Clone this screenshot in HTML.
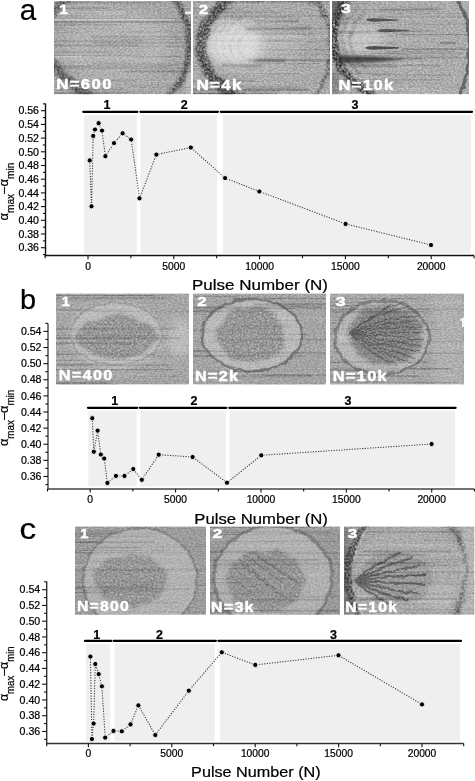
<!DOCTYPE html>
<html><head><meta charset="utf-8"><style>
html,body{margin:0;padding:0;background:#fff;}
svg{display:block;will-change:transform;}
text{font-family:"Liberation Sans", sans-serif;fill:#000;stroke:#000;stroke-width:0.22px;}
text.w{fill:#fff;stroke:#fff;stroke-width:0.45px;}
</style></head><body>
<svg width="475" height="781" viewBox="0 0 475 781">
<rect width="475" height="781" fill="#fff"/>
<defs>
<filter id="b05" filterUnits="userSpaceOnUse" x="0" y="0" width="475" height="781"><feGaussianBlur stdDeviation="0.5"/></filter>
<filter id="b07" filterUnits="userSpaceOnUse" x="0" y="0" width="475" height="781"><feGaussianBlur stdDeviation="0.7"/></filter>
<filter id="b1" filterUnits="userSpaceOnUse" x="0" y="0" width="475" height="781"><feGaussianBlur stdDeviation="1.0"/></filter>
<filter id="b15" filterUnits="userSpaceOnUse" x="0" y="0" width="475" height="781"><feGaussianBlur stdDeviation="1.5"/></filter>
<filter id="b2" filterUnits="userSpaceOnUse" x="0" y="0" width="475" height="781"><feGaussianBlur stdDeviation="2"/></filter>
<filter id="b3" filterUnits="userSpaceOnUse" x="0" y="0" width="475" height="781"><feGaussianBlur stdDeviation="3"/></filter>
<filter id="b4" filterUnits="userSpaceOnUse" x="0" y="0" width="475" height="781"><feGaussianBlur stdDeviation="4"/></filter>
<filter id="b5" filterUnits="userSpaceOnUse" x="0" y="0" width="475" height="781"><feGaussianBlur stdDeviation="5"/></filter>
<filter id="b6" filterUnits="userSpaceOnUse" x="0" y="0" width="475" height="781"><feGaussianBlur stdDeviation="6"/></filter>
<filter id="b8" filterUnits="userSpaceOnUse" x="0" y="0" width="475" height="781"><feGaussianBlur stdDeviation="8"/></filter>
<clipPath id="clip_a1"><rect x="54" y="1" width="137" height="93.2"/></clipPath>
<filter id="gr_a1" x="54" y="1" width="137" height="93.2" filterUnits="userSpaceOnUse" color-interpolation-filters="sRGB">
<feTurbulence type="fractalNoise" baseFrequency="0.45 0.7" numOctaves="2" seed="4"/>
<feColorMatrix type="matrix" values="1 0 0 0 0  1 0 0 0 0  1 0 0 0 0  0 0 0 0 1"/>
<feGaussianBlur stdDeviation="0.6"/>
<feComponentTransfer><feFuncR type="linear" slope="3.5" intercept="-1.25"/><feFuncG type="linear" slope="3.5" intercept="-1.25"/><feFuncB type="linear" slope="3.5" intercept="-1.25"/></feComponentTransfer>
</filter>
<clipPath id="clip_a2"><rect x="193" y="1" width="137" height="93.2"/></clipPath>
<filter id="gr_a2" x="193" y="1" width="137" height="93.2" filterUnits="userSpaceOnUse" color-interpolation-filters="sRGB">
<feTurbulence type="fractalNoise" baseFrequency="0.45 0.7" numOctaves="2" seed="6"/>
<feColorMatrix type="matrix" values="1 0 0 0 0  1 0 0 0 0  1 0 0 0 0  0 0 0 0 1"/>
<feGaussianBlur stdDeviation="0.6"/>
<feComponentTransfer><feFuncR type="linear" slope="3.5" intercept="-1.25"/><feFuncG type="linear" slope="3.5" intercept="-1.25"/><feFuncB type="linear" slope="3.5" intercept="-1.25"/></feComponentTransfer>
</filter>
<clipPath id="clip_a3"><rect x="332" y="1" width="137" height="93.2"/></clipPath>
<filter id="gr_a3" x="332" y="1" width="137" height="93.2" filterUnits="userSpaceOnUse" color-interpolation-filters="sRGB">
<feTurbulence type="fractalNoise" baseFrequency="0.45 0.7" numOctaves="2" seed="8"/>
<feColorMatrix type="matrix" values="1 0 0 0 0  1 0 0 0 0  1 0 0 0 0  0 0 0 0 1"/>
<feGaussianBlur stdDeviation="0.6"/>
<feComponentTransfer><feFuncR type="linear" slope="3.5" intercept="-1.25"/><feFuncG type="linear" slope="3.5" intercept="-1.25"/><feFuncB type="linear" slope="3.5" intercept="-1.25"/></feComponentTransfer>
</filter>
<clipPath id="clip_b1"><rect x="56" y="293.5" width="133" height="91"/></clipPath>
<filter id="gr_b1" x="56" y="293.5" width="133" height="91" filterUnits="userSpaceOnUse" color-interpolation-filters="sRGB">
<feTurbulence type="fractalNoise" baseFrequency="0.45 0.7" numOctaves="2" seed="12"/>
<feColorMatrix type="matrix" values="1 0 0 0 0  1 0 0 0 0  1 0 0 0 0  0 0 0 0 1"/>
<feGaussianBlur stdDeviation="0.6"/>
<feComponentTransfer><feFuncR type="linear" slope="3.5" intercept="-1.25"/><feFuncG type="linear" slope="3.5" intercept="-1.25"/><feFuncB type="linear" slope="3.5" intercept="-1.25"/></feComponentTransfer>
</filter>
<clipPath id="clip_b2"><rect x="193" y="293.5" width="133" height="91"/></clipPath>
<filter id="gr_b2" x="193" y="293.5" width="133" height="91" filterUnits="userSpaceOnUse" color-interpolation-filters="sRGB">
<feTurbulence type="fractalNoise" baseFrequency="0.45 0.7" numOctaves="2" seed="14"/>
<feColorMatrix type="matrix" values="1 0 0 0 0  1 0 0 0 0  1 0 0 0 0  0 0 0 0 1"/>
<feGaussianBlur stdDeviation="0.6"/>
<feComponentTransfer><feFuncR type="linear" slope="3.5" intercept="-1.25"/><feFuncG type="linear" slope="3.5" intercept="-1.25"/><feFuncB type="linear" slope="3.5" intercept="-1.25"/></feComponentTransfer>
</filter>
<clipPath id="clip_b3"><rect x="330" y="293.5" width="134" height="91"/></clipPath>
<filter id="gr_b3" x="330" y="293.5" width="134" height="91" filterUnits="userSpaceOnUse" color-interpolation-filters="sRGB">
<feTurbulence type="fractalNoise" baseFrequency="0.45 0.7" numOctaves="2" seed="18"/>
<feColorMatrix type="matrix" values="1 0 0 0 0  1 0 0 0 0  1 0 0 0 0  0 0 0 0 1"/>
<feGaussianBlur stdDeviation="0.6"/>
<feComponentTransfer><feFuncR type="linear" slope="3.5" intercept="-1.25"/><feFuncG type="linear" slope="3.5" intercept="-1.25"/><feFuncB type="linear" slope="3.5" intercept="-1.25"/></feComponentTransfer>
</filter>
<clipPath id="clip_c1"><rect x="75" y="526.5" width="131" height="88.2"/></clipPath>
<filter id="gr_c1" x="75" y="526.5" width="131" height="88.2" filterUnits="userSpaceOnUse" color-interpolation-filters="sRGB">
<feTurbulence type="fractalNoise" baseFrequency="0.45 0.7" numOctaves="2" seed="20"/>
<feColorMatrix type="matrix" values="1 0 0 0 0  1 0 0 0 0  1 0 0 0 0  0 0 0 0 1"/>
<feGaussianBlur stdDeviation="0.6"/>
<feComponentTransfer><feFuncR type="linear" slope="3.5" intercept="-1.25"/><feFuncG type="linear" slope="3.5" intercept="-1.25"/><feFuncB type="linear" slope="3.5" intercept="-1.25"/></feComponentTransfer>
</filter>
<clipPath id="clip_c2"><rect x="210" y="526.5" width="130" height="88.2"/></clipPath>
<filter id="gr_c2" x="210" y="526.5" width="130" height="88.2" filterUnits="userSpaceOnUse" color-interpolation-filters="sRGB">
<feTurbulence type="fractalNoise" baseFrequency="0.45 0.7" numOctaves="2" seed="24"/>
<feColorMatrix type="matrix" values="1 0 0 0 0  1 0 0 0 0  1 0 0 0 0  0 0 0 0 1"/>
<feGaussianBlur stdDeviation="0.6"/>
<feComponentTransfer><feFuncR type="linear" slope="3.5" intercept="-1.25"/><feFuncG type="linear" slope="3.5" intercept="-1.25"/><feFuncB type="linear" slope="3.5" intercept="-1.25"/></feComponentTransfer>
</filter>
<clipPath id="clip_c3"><rect x="344" y="526.5" width="130.5" height="88.2"/></clipPath>
<filter id="gr_c3" x="344" y="526.5" width="130.5" height="88.2" filterUnits="userSpaceOnUse" color-interpolation-filters="sRGB">
<feTurbulence type="fractalNoise" baseFrequency="0.45 0.7" numOctaves="2" seed="30"/>
<feColorMatrix type="matrix" values="1 0 0 0 0  1 0 0 0 0  1 0 0 0 0  0 0 0 0 1"/>
<feGaussianBlur stdDeviation="0.6"/>
<feComponentTransfer><feFuncR type="linear" slope="3.5" intercept="-1.25"/><feFuncG type="linear" slope="3.5" intercept="-1.25"/><feFuncB type="linear" slope="3.5" intercept="-1.25"/></feComponentTransfer>
</filter>
<filter id="blob1" filterUnits="userSpaceOnUse" x="0" y="0" width="475" height="781" color-interpolation-filters="sRGB">
<feTurbulence type="fractalNoise" baseFrequency="0.5 0.5" numOctaves="2" seed="7" result="t"/>
<feColorMatrix in="t" type="matrix" values="0 0 0 0 0  0 0 0 0 0  0 0 0 0 0  -1.6 0 0 0 1.3" result="ta"/>
<feTurbulence type="fractalNoise" baseFrequency="0.07" numOctaves="2" seed="3" result="n2"/>
<feDisplacementMap in="SourceGraphic" in2="n2" scale="11" xChannelSelector="R" yChannelSelector="G" result="shape"/>
<feGaussianBlur in="shape" stdDeviation="1.6" result="shapeb"/>
<feComposite in="ta" in2="shapeb" operator="in"/>
</filter>
<filter id="rough1" filterUnits="userSpaceOnUse" x="0" y="0" width="475" height="781">
<feTurbulence type="fractalNoise" baseFrequency="0.12" numOctaves="2" seed="5" result="n2"/>
<feDisplacementMap in="SourceGraphic" in2="n2" scale="5" xChannelSelector="R" yChannelSelector="G" result="shape"/>
<feGaussianBlur in="shape" stdDeviation="0.7"/>
</filter>
<filter id="blob2" filterUnits="userSpaceOnUse" x="0" y="0" width="475" height="781" color-interpolation-filters="sRGB">
<feTurbulence type="fractalNoise" baseFrequency="0.5 0.5" numOctaves="2" seed="14" result="t"/>
<feColorMatrix in="t" type="matrix" values="0 0 0 0 0  0 0 0 0 0  0 0 0 0 0  -1.6 0 0 0 1.3" result="ta"/>
<feTurbulence type="fractalNoise" baseFrequency="0.07" numOctaves="2" seed="6" result="n2"/>
<feDisplacementMap in="SourceGraphic" in2="n2" scale="11" xChannelSelector="R" yChannelSelector="G" result="shape"/>
<feGaussianBlur in="shape" stdDeviation="1.6" result="shapeb"/>
<feComposite in="ta" in2="shapeb" operator="in"/>
</filter>
<filter id="rough2" filterUnits="userSpaceOnUse" x="0" y="0" width="475" height="781">
<feTurbulence type="fractalNoise" baseFrequency="0.12" numOctaves="2" seed="10" result="n2"/>
<feDisplacementMap in="SourceGraphic" in2="n2" scale="5" xChannelSelector="R" yChannelSelector="G" result="shape"/>
<feGaussianBlur in="shape" stdDeviation="0.7"/>
</filter>
<filter id="blob3" filterUnits="userSpaceOnUse" x="0" y="0" width="475" height="781" color-interpolation-filters="sRGB">
<feTurbulence type="fractalNoise" baseFrequency="0.5 0.5" numOctaves="2" seed="21" result="t"/>
<feColorMatrix in="t" type="matrix" values="0 0 0 0 0  0 0 0 0 0  0 0 0 0 0  -1.6 0 0 0 1.3" result="ta"/>
<feTurbulence type="fractalNoise" baseFrequency="0.07" numOctaves="2" seed="9" result="n2"/>
<feDisplacementMap in="SourceGraphic" in2="n2" scale="11" xChannelSelector="R" yChannelSelector="G" result="shape"/>
<feGaussianBlur in="shape" stdDeviation="1.6" result="shapeb"/>
<feComposite in="ta" in2="shapeb" operator="in"/>
</filter>
<filter id="rough3" filterUnits="userSpaceOnUse" x="0" y="0" width="475" height="781">
<feTurbulence type="fractalNoise" baseFrequency="0.12" numOctaves="2" seed="15" result="n2"/>
<feDisplacementMap in="SourceGraphic" in2="n2" scale="5" xChannelSelector="R" yChannelSelector="G" result="shape"/>
<feGaussianBlur in="shape" stdDeviation="0.7"/>
</filter>
<filter id="blob4" filterUnits="userSpaceOnUse" x="0" y="0" width="475" height="781" color-interpolation-filters="sRGB">
<feTurbulence type="fractalNoise" baseFrequency="0.5 0.5" numOctaves="2" seed="28" result="t"/>
<feColorMatrix in="t" type="matrix" values="0 0 0 0 0  0 0 0 0 0  0 0 0 0 0  -1.6 0 0 0 1.3" result="ta"/>
<feTurbulence type="fractalNoise" baseFrequency="0.07" numOctaves="2" seed="12" result="n2"/>
<feDisplacementMap in="SourceGraphic" in2="n2" scale="11" xChannelSelector="R" yChannelSelector="G" result="shape"/>
<feGaussianBlur in="shape" stdDeviation="1.6" result="shapeb"/>
<feComposite in="ta" in2="shapeb" operator="in"/>
</filter>
<filter id="rough4" filterUnits="userSpaceOnUse" x="0" y="0" width="475" height="781">
<feTurbulence type="fractalNoise" baseFrequency="0.12" numOctaves="2" seed="20" result="n2"/>
<feDisplacementMap in="SourceGraphic" in2="n2" scale="5" xChannelSelector="R" yChannelSelector="G" result="shape"/>
<feGaussianBlur in="shape" stdDeviation="0.7"/>
</filter>
<filter id="blob5" filterUnits="userSpaceOnUse" x="0" y="0" width="475" height="781" color-interpolation-filters="sRGB">
<feTurbulence type="fractalNoise" baseFrequency="0.5 0.5" numOctaves="2" seed="35" result="t"/>
<feColorMatrix in="t" type="matrix" values="0 0 0 0 0  0 0 0 0 0  0 0 0 0 0  -1.6 0 0 0 1.3" result="ta"/>
<feTurbulence type="fractalNoise" baseFrequency="0.07" numOctaves="2" seed="15" result="n2"/>
<feDisplacementMap in="SourceGraphic" in2="n2" scale="11" xChannelSelector="R" yChannelSelector="G" result="shape"/>
<feGaussianBlur in="shape" stdDeviation="1.6" result="shapeb"/>
<feComposite in="ta" in2="shapeb" operator="in"/>
</filter>
<filter id="rough5" filterUnits="userSpaceOnUse" x="0" y="0" width="475" height="781">
<feTurbulence type="fractalNoise" baseFrequency="0.12" numOctaves="2" seed="25" result="n2"/>
<feDisplacementMap in="SourceGraphic" in2="n2" scale="5" xChannelSelector="R" yChannelSelector="G" result="shape"/>
<feGaussianBlur in="shape" stdDeviation="0.7"/>
</filter>
<filter id="band1" filterUnits="userSpaceOnUse" x="0" y="0" width="475" height="781" color-interpolation-filters="sRGB">
<feTurbulence type="fractalNoise" baseFrequency="0.45 0.45" numOctaves="2" seed="11" result="t"/>
<feColorMatrix in="t" type="matrix" values="0 0 0 0 0  0 0 0 0 0  0 0 0 0 0  -2.2 0 0 0 1.7" result="ta"/>
<feTurbulence type="fractalNoise" baseFrequency="0.1" numOctaves="2" seed="13" result="n2"/>
<feDisplacementMap in="SourceGraphic" in2="n2" scale="7" xChannelSelector="R" yChannelSelector="G" result="shape"/>
<feGaussianBlur in="shape" stdDeviation="0.9" result="shapeb"/>
<feComposite in="ta" in2="shapeb" operator="in"/>
</filter>
<filter id="band2" filterUnits="userSpaceOnUse" x="0" y="0" width="475" height="781" color-interpolation-filters="sRGB">
<feTurbulence type="fractalNoise" baseFrequency="0.45 0.45" numOctaves="2" seed="22" result="t"/>
<feColorMatrix in="t" type="matrix" values="0 0 0 0 0  0 0 0 0 0  0 0 0 0 0  -2.2 0 0 0 1.7" result="ta"/>
<feTurbulence type="fractalNoise" baseFrequency="0.1" numOctaves="2" seed="26" result="n2"/>
<feDisplacementMap in="SourceGraphic" in2="n2" scale="7" xChannelSelector="R" yChannelSelector="G" result="shape"/>
<feGaussianBlur in="shape" stdDeviation="0.9" result="shapeb"/>
<feComposite in="ta" in2="shapeb" operator="in"/>
</filter>
<filter id="band3" filterUnits="userSpaceOnUse" x="0" y="0" width="475" height="781" color-interpolation-filters="sRGB">
<feTurbulence type="fractalNoise" baseFrequency="0.45 0.45" numOctaves="2" seed="33" result="t"/>
<feColorMatrix in="t" type="matrix" values="0 0 0 0 0  0 0 0 0 0  0 0 0 0 0  -2.2 0 0 0 1.7" result="ta"/>
<feTurbulence type="fractalNoise" baseFrequency="0.1" numOctaves="2" seed="39" result="n2"/>
<feDisplacementMap in="SourceGraphic" in2="n2" scale="7" xChannelSelector="R" yChannelSelector="G" result="shape"/>
<feGaussianBlur in="shape" stdDeviation="0.9" result="shapeb"/>
<feComposite in="ta" in2="shapeb" operator="in"/>
</filter>
<filter id="band4" filterUnits="userSpaceOnUse" x="0" y="0" width="475" height="781" color-interpolation-filters="sRGB">
<feTurbulence type="fractalNoise" baseFrequency="0.45 0.45" numOctaves="2" seed="44" result="t"/>
<feColorMatrix in="t" type="matrix" values="0 0 0 0 0  0 0 0 0 0  0 0 0 0 0  -2.2 0 0 0 1.7" result="ta"/>
<feTurbulence type="fractalNoise" baseFrequency="0.1" numOctaves="2" seed="52" result="n2"/>
<feDisplacementMap in="SourceGraphic" in2="n2" scale="7" xChannelSelector="R" yChannelSelector="G" result="shape"/>
<feGaussianBlur in="shape" stdDeviation="0.9" result="shapeb"/>
<feComposite in="ta" in2="shapeb" operator="in"/>
</filter>
<filter id="band5" filterUnits="userSpaceOnUse" x="0" y="0" width="475" height="781" color-interpolation-filters="sRGB">
<feTurbulence type="fractalNoise" baseFrequency="0.45 0.45" numOctaves="2" seed="55" result="t"/>
<feColorMatrix in="t" type="matrix" values="0 0 0 0 0  0 0 0 0 0  0 0 0 0 0  -2.2 0 0 0 1.7" result="ta"/>
<feTurbulence type="fractalNoise" baseFrequency="0.1" numOctaves="2" seed="65" result="n2"/>
<feDisplacementMap in="SourceGraphic" in2="n2" scale="7" xChannelSelector="R" yChannelSelector="G" result="shape"/>
<feGaussianBlur in="shape" stdDeviation="0.9" result="shapeb"/>
<feComposite in="ta" in2="shapeb" operator="in"/>
</filter>
<pattern id="hatch" patternUnits="userSpaceOnUse" width="3.2" height="3.2" patternTransform="rotate(-40)">
<rect width="3.2" height="1.1" fill="#000" opacity="0.5"/></pattern>
<pattern id="hatch2" patternUnits="userSpaceOnUse" width="3.6" height="3.6" patternTransform="rotate(45)">
<rect width="3.6" height="1.0" fill="#000" opacity="0.5"/></pattern>
<radialGradient id="rg"><stop offset="0" stop-color="#fff"/><stop offset="0.6" stop-color="#fff" stop-opacity="0.6"/><stop offset="1" stop-color="#fff" stop-opacity="0"/></radialGradient>
<mask id="m_a1" maskUnits="userSpaceOnUse" x="0" y="0" width="475" height="781"><ellipse cx="112" cy="46" rx="46" ry="34" fill="url(#rg)"/></mask>
</defs>
<rect x="84" y="114.9" width="52.80000000000001" height="138.7" fill="#efefef"/>
<rect x="140.5" y="114.9" width="76.5" height="138.7" fill="#efefef"/>
<rect x="223" y="114.9" width="248" height="138.7" fill="#efefef"/>
<line x1="83.3" y1="111.8" x2="137.3" y2="111.8" stroke="#000" stroke-width="2.3" stroke-linecap="round"/>
<line x1="140.4" y1="111.8" x2="217.9" y2="111.8" stroke="#000" stroke-width="2.3" stroke-linecap="round"/>
<line x1="220.8" y1="111.8" x2="472" y2="111.8" stroke="#000" stroke-width="2.3" stroke-linecap="round"/>
<text x="107" y="109.2" text-anchor="middle" font-weight="bold" font-size="12.5" font-family="Liberation Mono">1</text>
<text x="184.3" y="109.2" text-anchor="middle" font-weight="bold" font-size="12.5">2</text>
<text x="355" y="109.2" text-anchor="middle" font-weight="bold" font-size="12.5">3</text>
<line x1="45.5" y1="103.5" x2="45.5" y2="256.3" stroke="#111" stroke-width="1.4"/>
<line x1="44.8" y1="255.6" x2="474" y2="255.6" stroke="#111" stroke-width="1.5"/>
<line x1="42.9" y1="254.55" x2="45.5" y2="254.55" stroke="#111" stroke-width="1.1"/>
<line x1="40.9" y1="247.70" x2="45.5" y2="247.70" stroke="#111" stroke-width="1.1"/>
<text x="39.0" y="251.40" text-anchor="end" font-size="10.6">0.36</text>
<line x1="42.9" y1="240.85" x2="45.5" y2="240.85" stroke="#111" stroke-width="1.1"/>
<line x1="40.9" y1="234.00" x2="45.5" y2="234.00" stroke="#111" stroke-width="1.1"/>
<text x="39.0" y="237.70" text-anchor="end" font-size="10.6">0.38</text>
<line x1="42.9" y1="227.15" x2="45.5" y2="227.15" stroke="#111" stroke-width="1.1"/>
<line x1="40.9" y1="220.30" x2="45.5" y2="220.30" stroke="#111" stroke-width="1.1"/>
<text x="39.0" y="224.00" text-anchor="end" font-size="10.6">0.40</text>
<line x1="42.9" y1="213.45" x2="45.5" y2="213.45" stroke="#111" stroke-width="1.1"/>
<line x1="40.9" y1="206.60" x2="45.5" y2="206.60" stroke="#111" stroke-width="1.1"/>
<text x="39.0" y="210.30" text-anchor="end" font-size="10.6">0.42</text>
<line x1="42.9" y1="199.75" x2="45.5" y2="199.75" stroke="#111" stroke-width="1.1"/>
<line x1="40.9" y1="192.90" x2="45.5" y2="192.90" stroke="#111" stroke-width="1.1"/>
<text x="39.0" y="196.60" text-anchor="end" font-size="10.6">0.44</text>
<line x1="42.9" y1="186.05" x2="45.5" y2="186.05" stroke="#111" stroke-width="1.1"/>
<line x1="40.9" y1="179.20" x2="45.5" y2="179.20" stroke="#111" stroke-width="1.1"/>
<text x="39.0" y="182.90" text-anchor="end" font-size="10.6">0.46</text>
<line x1="42.9" y1="172.35" x2="45.5" y2="172.35" stroke="#111" stroke-width="1.1"/>
<line x1="40.9" y1="165.50" x2="45.5" y2="165.50" stroke="#111" stroke-width="1.1"/>
<text x="39.0" y="169.20" text-anchor="end" font-size="10.6">0.48</text>
<line x1="42.9" y1="158.65" x2="45.5" y2="158.65" stroke="#111" stroke-width="1.1"/>
<line x1="40.9" y1="151.80" x2="45.5" y2="151.80" stroke="#111" stroke-width="1.1"/>
<text x="39.0" y="155.50" text-anchor="end" font-size="10.6">0.50</text>
<line x1="42.9" y1="144.95" x2="45.5" y2="144.95" stroke="#111" stroke-width="1.1"/>
<line x1="40.9" y1="138.10" x2="45.5" y2="138.10" stroke="#111" stroke-width="1.1"/>
<text x="39.0" y="141.80" text-anchor="end" font-size="10.6">0.52</text>
<line x1="42.9" y1="131.25" x2="45.5" y2="131.25" stroke="#111" stroke-width="1.1"/>
<line x1="40.9" y1="124.40" x2="45.5" y2="124.40" stroke="#111" stroke-width="1.1"/>
<text x="39.0" y="128.10" text-anchor="end" font-size="10.6">0.54</text>
<line x1="42.9" y1="117.55" x2="45.5" y2="117.55" stroke="#111" stroke-width="1.1"/>
<line x1="40.9" y1="110.70" x2="45.5" y2="110.70" stroke="#111" stroke-width="1.1"/>
<text x="39.0" y="114.40" text-anchor="end" font-size="10.6">0.56</text>
<line x1="42.9" y1="103.85" x2="45.5" y2="103.85" stroke="#111" stroke-width="1.1"/>
<line x1="45.10" y1="255.6" x2="45.10" y2="258.2" stroke="#111" stroke-width="1.1"/>
<line x1="88.00" y1="255.6" x2="88.00" y2="259.2" stroke="#111" stroke-width="1.1"/>
<text x="88.00" y="269.8" text-anchor="middle" font-size="10.3">0</text>
<line x1="130.90" y1="255.6" x2="130.90" y2="258.2" stroke="#111" stroke-width="1.1"/>
<line x1="173.80" y1="255.6" x2="173.80" y2="259.2" stroke="#111" stroke-width="1.1"/>
<text x="173.80" y="269.8" text-anchor="middle" font-size="10.3">5000</text>
<line x1="216.70" y1="255.6" x2="216.70" y2="258.2" stroke="#111" stroke-width="1.1"/>
<line x1="259.60" y1="255.6" x2="259.60" y2="259.2" stroke="#111" stroke-width="1.1"/>
<text x="259.60" y="269.8" text-anchor="middle" font-size="10.3">10000</text>
<line x1="302.50" y1="255.6" x2="302.50" y2="258.2" stroke="#111" stroke-width="1.1"/>
<line x1="345.40" y1="255.6" x2="345.40" y2="259.2" stroke="#111" stroke-width="1.1"/>
<text x="345.40" y="269.8" text-anchor="middle" font-size="10.3">15000</text>
<line x1="388.30" y1="255.6" x2="388.30" y2="258.2" stroke="#111" stroke-width="1.1"/>
<line x1="431.20" y1="255.6" x2="431.20" y2="259.2" stroke="#111" stroke-width="1.1"/>
<text x="431.20" y="269.8" text-anchor="middle" font-size="10.3">20000</text>
<line x1="474.10" y1="255.6" x2="474.10" y2="258.2" stroke="#111" stroke-width="1.1"/>
<text x="192" y="290.4" font-size="15.5" textLength="136" lengthAdjust="spacingAndGlyphs">Pulse Number (N)</text>
<path d="M89.7,160.4 L91.5,206.3 L93.2,135.9 L95.0,129.5 L98.6,123.2 L102.0,130.6 L105.4,156.2 L114.0,143.1 L122.6,133.3 L131.2,139.5 L139.5,198.3 L156.4,154.6 L190.8,147.5 L225.1,178.1 L259.4,191.5 L345.6,223.9 L431.0,245.0" fill="none" stroke="#3a3a3a" stroke-width="1.05" stroke-dasharray="1.2 1.4"/>
<circle cx="89.7" cy="160.4" r="2.6" fill="#000" stroke="#fff" stroke-width="0.9"/>
<circle cx="91.5" cy="206.3" r="2.6" fill="#000" stroke="#fff" stroke-width="0.9"/>
<circle cx="93.2" cy="135.9" r="2.6" fill="#000" stroke="#fff" stroke-width="0.9"/>
<circle cx="95.0" cy="129.5" r="2.6" fill="#000" stroke="#fff" stroke-width="0.9"/>
<circle cx="98.6" cy="123.2" r="2.6" fill="#000" stroke="#fff" stroke-width="0.9"/>
<circle cx="102.0" cy="130.6" r="2.6" fill="#000" stroke="#fff" stroke-width="0.9"/>
<circle cx="105.4" cy="156.2" r="2.6" fill="#000" stroke="#fff" stroke-width="0.9"/>
<circle cx="114.0" cy="143.1" r="2.6" fill="#000" stroke="#fff" stroke-width="0.9"/>
<circle cx="122.6" cy="133.3" r="2.6" fill="#000" stroke="#fff" stroke-width="0.9"/>
<circle cx="131.2" cy="139.5" r="2.6" fill="#000" stroke="#fff" stroke-width="0.9"/>
<circle cx="139.5" cy="198.3" r="2.6" fill="#000" stroke="#fff" stroke-width="0.9"/>
<circle cx="156.4" cy="154.6" r="2.6" fill="#000" stroke="#fff" stroke-width="0.9"/>
<circle cx="190.8" cy="147.5" r="2.6" fill="#000" stroke="#fff" stroke-width="0.9"/>
<circle cx="225.1" cy="178.1" r="2.6" fill="#000" stroke="#fff" stroke-width="0.9"/>
<circle cx="259.4" cy="191.5" r="2.6" fill="#000" stroke="#fff" stroke-width="0.9"/>
<circle cx="345.6" cy="223.9" r="2.6" fill="#000" stroke="#fff" stroke-width="0.9"/>
<circle cx="431.0" cy="245.0" r="2.6" fill="#000" stroke="#fff" stroke-width="0.9"/>
<g transform="translate(8.2,220.6) rotate(-90)"><text x="0" y="0" font-size="13.5" textLength="57.900000000000006" lengthAdjust="spacingAndGlyphs"><tspan>&#945;</tspan><tspan font-size="10.5" dy="5.6">max</tspan><tspan dy="-5.6">&#8211;&#945;</tspan><tspan font-size="10.5" dy="5.6">min</tspan></text></g>
<text transform="translate(19.8,19.7) scale(1.0,1)" x="0" y="0" font-size="29.5">a</text>
<rect x="88.3" y="410.5" width="48.3" height="76.0" fill="#efefef"/>
<rect x="140.4" y="410.5" width="85.19999999999999" height="76.0" fill="#efefef"/>
<rect x="229.6" y="410.5" width="225.4" height="76.0" fill="#efefef"/>
<line x1="88" y1="407.8" x2="137.3" y2="407.8" stroke="#000" stroke-width="2.3" stroke-linecap="round"/>
<line x1="140" y1="407.8" x2="226.3" y2="407.8" stroke="#000" stroke-width="2.3" stroke-linecap="round"/>
<line x1="229.3" y1="407.8" x2="455.6" y2="407.8" stroke="#000" stroke-width="2.3" stroke-linecap="round"/>
<text x="114.7" y="404.6" text-anchor="middle" font-weight="bold" font-size="12.5" font-family="Liberation Mono">1</text>
<text x="193.9" y="404.6" text-anchor="middle" font-weight="bold" font-size="12.5">2</text>
<text x="348" y="404.6" text-anchor="middle" font-weight="bold" font-size="12.5">3</text>
<line x1="48.0" y1="323.6" x2="48.0" y2="489.59999999999997" stroke="#444" stroke-width="1.4"/>
<line x1="47.3" y1="488.9" x2="474.3" y2="488.9" stroke="#444" stroke-width="1.5"/>
<line x1="45.4" y1="484.54" x2="48.0" y2="484.54" stroke="#111" stroke-width="1.1"/>
<line x1="43.4" y1="476.48" x2="48.0" y2="476.48" stroke="#111" stroke-width="1.1"/>
<text x="41.5" y="480.18" text-anchor="end" font-size="10.6">0.36</text>
<line x1="45.4" y1="468.42" x2="48.0" y2="468.42" stroke="#111" stroke-width="1.1"/>
<line x1="43.4" y1="460.36" x2="48.0" y2="460.36" stroke="#111" stroke-width="1.1"/>
<text x="41.5" y="464.06" text-anchor="end" font-size="10.6">0.38</text>
<line x1="45.4" y1="452.30" x2="48.0" y2="452.30" stroke="#111" stroke-width="1.1"/>
<line x1="43.4" y1="444.24" x2="48.0" y2="444.24" stroke="#111" stroke-width="1.1"/>
<text x="41.5" y="447.94" text-anchor="end" font-size="10.6">0.40</text>
<line x1="45.4" y1="436.18" x2="48.0" y2="436.18" stroke="#111" stroke-width="1.1"/>
<line x1="43.4" y1="428.12" x2="48.0" y2="428.12" stroke="#111" stroke-width="1.1"/>
<text x="41.5" y="431.82" text-anchor="end" font-size="10.6">0.42</text>
<line x1="45.4" y1="420.06" x2="48.0" y2="420.06" stroke="#111" stroke-width="1.1"/>
<line x1="43.4" y1="412.00" x2="48.0" y2="412.00" stroke="#111" stroke-width="1.1"/>
<text x="41.5" y="415.70" text-anchor="end" font-size="10.6">0.44</text>
<line x1="45.4" y1="403.94" x2="48.0" y2="403.94" stroke="#111" stroke-width="1.1"/>
<line x1="43.4" y1="395.88" x2="48.0" y2="395.88" stroke="#111" stroke-width="1.1"/>
<text x="41.5" y="399.58" text-anchor="end" font-size="10.6">0.46</text>
<line x1="45.4" y1="387.82" x2="48.0" y2="387.82" stroke="#111" stroke-width="1.1"/>
<line x1="43.4" y1="379.76" x2="48.0" y2="379.76" stroke="#111" stroke-width="1.1"/>
<text x="41.5" y="383.46" text-anchor="end" font-size="10.6">0.48</text>
<line x1="45.4" y1="371.70" x2="48.0" y2="371.70" stroke="#111" stroke-width="1.1"/>
<line x1="43.4" y1="363.64" x2="48.0" y2="363.64" stroke="#111" stroke-width="1.1"/>
<text x="41.5" y="367.34" text-anchor="end" font-size="10.6">0.50</text>
<line x1="45.4" y1="355.58" x2="48.0" y2="355.58" stroke="#111" stroke-width="1.1"/>
<line x1="43.4" y1="347.52" x2="48.0" y2="347.52" stroke="#111" stroke-width="1.1"/>
<text x="41.5" y="351.22" text-anchor="end" font-size="10.6">0.52</text>
<line x1="45.4" y1="339.46" x2="48.0" y2="339.46" stroke="#111" stroke-width="1.1"/>
<line x1="43.4" y1="331.40" x2="48.0" y2="331.40" stroke="#111" stroke-width="1.1"/>
<text x="41.5" y="335.10" text-anchor="end" font-size="10.6">0.54</text>
<line x1="45.4" y1="323.34" x2="48.0" y2="323.34" stroke="#111" stroke-width="1.1"/>
<line x1="47.51" y1="488.9" x2="47.51" y2="491.5" stroke="#111" stroke-width="1.1"/>
<line x1="90.20" y1="488.9" x2="90.20" y2="492.5" stroke="#111" stroke-width="1.1"/>
<text x="90.20" y="503.2" text-anchor="middle" font-size="10.3">0</text>
<line x1="132.89" y1="488.9" x2="132.89" y2="491.5" stroke="#111" stroke-width="1.1"/>
<line x1="175.57" y1="488.9" x2="175.57" y2="492.5" stroke="#111" stroke-width="1.1"/>
<text x="175.57" y="503.2" text-anchor="middle" font-size="10.3">5000</text>
<line x1="218.26" y1="488.9" x2="218.26" y2="491.5" stroke="#111" stroke-width="1.1"/>
<line x1="260.95" y1="488.9" x2="260.95" y2="492.5" stroke="#111" stroke-width="1.1"/>
<text x="260.95" y="503.2" text-anchor="middle" font-size="10.3">10000</text>
<line x1="303.64" y1="488.9" x2="303.64" y2="491.5" stroke="#111" stroke-width="1.1"/>
<line x1="346.32" y1="488.9" x2="346.32" y2="492.5" stroke="#111" stroke-width="1.1"/>
<text x="346.32" y="503.2" text-anchor="middle" font-size="10.3">15000</text>
<line x1="389.01" y1="488.9" x2="389.01" y2="491.5" stroke="#111" stroke-width="1.1"/>
<line x1="431.70" y1="488.9" x2="431.70" y2="492.5" stroke="#111" stroke-width="1.1"/>
<text x="431.70" y="503.2" text-anchor="middle" font-size="10.3">20000</text>
<line x1="474.39" y1="488.9" x2="474.39" y2="491.5" stroke="#111" stroke-width="1.1"/>
<text x="194.3" y="523.6" font-size="15.5" textLength="133.5" lengthAdjust="spacingAndGlyphs">Pulse Number (N)</text>
<path d="M92.3,418.2 L93.8,451.7 L97.6,430.6 L100.8,454.5 L104.2,458.5 L107.4,482.9 L115.9,475.9 L124.5,475.9 L133.3,469.0 L141.8,479.8 L158.7,454.7 L192.6,457.0 L227.0,482.7 L261.3,455.3 L431.6,444.0" fill="none" stroke="#3a3a3a" stroke-width="1.05" stroke-dasharray="1.2 1.4"/>
<circle cx="92.3" cy="418.2" r="2.6" fill="#000" stroke="#fff" stroke-width="0.9"/>
<circle cx="93.8" cy="451.7" r="2.6" fill="#000" stroke="#fff" stroke-width="0.9"/>
<circle cx="97.6" cy="430.6" r="2.6" fill="#000" stroke="#fff" stroke-width="0.9"/>
<circle cx="100.8" cy="454.5" r="2.6" fill="#000" stroke="#fff" stroke-width="0.9"/>
<circle cx="104.2" cy="458.5" r="2.6" fill="#000" stroke="#fff" stroke-width="0.9"/>
<circle cx="107.4" cy="482.9" r="2.6" fill="#000" stroke="#fff" stroke-width="0.9"/>
<circle cx="115.9" cy="475.9" r="2.6" fill="#000" stroke="#fff" stroke-width="0.9"/>
<circle cx="124.5" cy="475.9" r="2.6" fill="#000" stroke="#fff" stroke-width="0.9"/>
<circle cx="133.3" cy="469.0" r="2.6" fill="#000" stroke="#fff" stroke-width="0.9"/>
<circle cx="141.8" cy="479.8" r="2.6" fill="#000" stroke="#fff" stroke-width="0.9"/>
<circle cx="158.7" cy="454.7" r="2.6" fill="#000" stroke="#fff" stroke-width="0.9"/>
<circle cx="192.6" cy="457.0" r="2.6" fill="#000" stroke="#fff" stroke-width="0.9"/>
<circle cx="227.0" cy="482.7" r="2.6" fill="#000" stroke="#fff" stroke-width="0.9"/>
<circle cx="261.3" cy="455.3" r="2.6" fill="#000" stroke="#fff" stroke-width="0.9"/>
<circle cx="431.6" cy="444.0" r="2.6" fill="#000" stroke="#fff" stroke-width="0.9"/>
<g transform="translate(8.2,446) rotate(-90)"><text x="0" y="0" font-size="13.5" textLength="56.30000000000001" lengthAdjust="spacingAndGlyphs"><tspan>&#945;</tspan><tspan font-size="10.5" dy="5.6">max</tspan><tspan dy="-5.6">&#8211;&#945;</tspan><tspan font-size="10.5" dy="5.6">min</tspan></text></g>
<text transform="translate(20.0,308.6) scale(1.05,1)" x="0" y="0" font-size="27.5">b</text>
<rect x="85.9" y="643.9" width="24.39999999999999" height="97.30000000000007" fill="#efefef"/>
<rect x="114.5" y="643.9" width="100.30000000000001" height="97.30000000000007" fill="#efefef"/>
<rect x="219.8" y="643.9" width="240.2" height="97.30000000000007" fill="#efefef"/>
<line x1="85" y1="640.8" x2="111.2" y2="640.8" stroke="#000" stroke-width="2.3" stroke-linecap="round"/>
<line x1="113.7" y1="640.8" x2="215.8" y2="640.8" stroke="#000" stroke-width="2.3" stroke-linecap="round"/>
<line x1="218.5" y1="640.8" x2="461" y2="640.8" stroke="#000" stroke-width="2.3" stroke-linecap="round"/>
<text x="96.8" y="638.5" text-anchor="middle" font-weight="bold" font-size="12.5" font-family="Liberation Mono">1</text>
<text x="159.5" y="638.5" text-anchor="middle" font-weight="bold" font-size="12.5">2</text>
<text x="333.5" y="638.5" text-anchor="middle" font-weight="bold" font-size="12.5">3</text>
<line x1="46.7" y1="581.5" x2="46.7" y2="744.3000000000001" stroke="#333" stroke-width="1.4"/>
<line x1="46.0" y1="743.6" x2="463.7" y2="743.6" stroke="#333" stroke-width="1.5"/>
<line x1="44.1" y1="739.33" x2="46.7" y2="739.33" stroke="#111" stroke-width="1.1"/>
<line x1="42.1" y1="731.45" x2="46.7" y2="731.45" stroke="#111" stroke-width="1.1"/>
<text x="40.2" y="735.15" text-anchor="end" font-size="10.6">0.36</text>
<line x1="44.1" y1="723.58" x2="46.7" y2="723.58" stroke="#111" stroke-width="1.1"/>
<line x1="42.1" y1="715.70" x2="46.7" y2="715.70" stroke="#111" stroke-width="1.1"/>
<text x="40.2" y="719.40" text-anchor="end" font-size="10.6">0.38</text>
<line x1="44.1" y1="707.83" x2="46.7" y2="707.83" stroke="#111" stroke-width="1.1"/>
<line x1="42.1" y1="699.95" x2="46.7" y2="699.95" stroke="#111" stroke-width="1.1"/>
<text x="40.2" y="703.65" text-anchor="end" font-size="10.6">0.40</text>
<line x1="44.1" y1="692.08" x2="46.7" y2="692.08" stroke="#111" stroke-width="1.1"/>
<line x1="42.1" y1="684.20" x2="46.7" y2="684.20" stroke="#111" stroke-width="1.1"/>
<text x="40.2" y="687.90" text-anchor="end" font-size="10.6">0.42</text>
<line x1="44.1" y1="676.33" x2="46.7" y2="676.33" stroke="#111" stroke-width="1.1"/>
<line x1="42.1" y1="668.45" x2="46.7" y2="668.45" stroke="#111" stroke-width="1.1"/>
<text x="40.2" y="672.15" text-anchor="end" font-size="10.6">0.44</text>
<line x1="44.1" y1="660.58" x2="46.7" y2="660.58" stroke="#111" stroke-width="1.1"/>
<line x1="42.1" y1="652.70" x2="46.7" y2="652.70" stroke="#111" stroke-width="1.1"/>
<text x="40.2" y="656.40" text-anchor="end" font-size="10.6">0.46</text>
<line x1="44.1" y1="644.83" x2="46.7" y2="644.83" stroke="#111" stroke-width="1.1"/>
<line x1="42.1" y1="636.95" x2="46.7" y2="636.95" stroke="#111" stroke-width="1.1"/>
<text x="40.2" y="640.65" text-anchor="end" font-size="10.6">0.48</text>
<line x1="44.1" y1="629.08" x2="46.7" y2="629.08" stroke="#111" stroke-width="1.1"/>
<line x1="42.1" y1="621.20" x2="46.7" y2="621.20" stroke="#111" stroke-width="1.1"/>
<text x="40.2" y="624.90" text-anchor="end" font-size="10.6">0.50</text>
<line x1="44.1" y1="613.32" x2="46.7" y2="613.32" stroke="#111" stroke-width="1.1"/>
<line x1="42.1" y1="605.45" x2="46.7" y2="605.45" stroke="#111" stroke-width="1.1"/>
<text x="40.2" y="609.15" text-anchor="end" font-size="10.6">0.52</text>
<line x1="44.1" y1="597.57" x2="46.7" y2="597.57" stroke="#111" stroke-width="1.1"/>
<line x1="42.1" y1="589.70" x2="46.7" y2="589.70" stroke="#111" stroke-width="1.1"/>
<text x="40.2" y="593.40" text-anchor="end" font-size="10.6">0.54</text>
<line x1="44.1" y1="581.82" x2="46.7" y2="581.82" stroke="#111" stroke-width="1.1"/>
<line x1="46.70" y1="743.6" x2="46.70" y2="746.2" stroke="#111" stroke-width="1.1"/>
<line x1="88.40" y1="743.6" x2="88.40" y2="747.2" stroke="#111" stroke-width="1.1"/>
<text x="88.40" y="757.2" text-anchor="middle" font-size="10.3">0</text>
<line x1="130.10" y1="743.6" x2="130.10" y2="746.2" stroke="#111" stroke-width="1.1"/>
<line x1="171.80" y1="743.6" x2="171.80" y2="747.2" stroke="#111" stroke-width="1.1"/>
<text x="171.80" y="757.2" text-anchor="middle" font-size="10.3">5000</text>
<line x1="213.50" y1="743.6" x2="213.50" y2="746.2" stroke="#111" stroke-width="1.1"/>
<line x1="255.20" y1="743.6" x2="255.20" y2="747.2" stroke="#111" stroke-width="1.1"/>
<text x="255.20" y="757.2" text-anchor="middle" font-size="10.3">10000</text>
<line x1="296.90" y1="743.6" x2="296.90" y2="746.2" stroke="#111" stroke-width="1.1"/>
<line x1="338.60" y1="743.6" x2="338.60" y2="747.2" stroke="#111" stroke-width="1.1"/>
<text x="338.60" y="757.2" text-anchor="middle" font-size="10.3">15000</text>
<line x1="380.30" y1="743.6" x2="380.30" y2="746.2" stroke="#111" stroke-width="1.1"/>
<line x1="422.00" y1="743.6" x2="422.00" y2="747.2" stroke="#111" stroke-width="1.1"/>
<text x="422.00" y="757.2" text-anchor="middle" font-size="10.3">20000</text>
<line x1="463.70" y1="743.6" x2="463.70" y2="746.2" stroke="#111" stroke-width="1.1"/>
<text x="191.1" y="776.8" font-size="15.5" textLength="129.6" lengthAdjust="spacingAndGlyphs">Pulse Number (N)</text>
<path d="M90.4,656.5 L91.9,739.0 L93.6,723.5 L95.3,664.0 L98.7,674.1 L101.9,686.3 L105.2,737.6 L113.5,730.9 L121.8,731.3 L130.5,724.4 L138.4,705.4 L155.3,735.0 L188.8,690.7 L221.8,652.3 L255.3,664.9 L338.5,655.3 L422.0,704.4" fill="none" stroke="#3a3a3a" stroke-width="1.05" stroke-dasharray="1.2 1.4"/>
<circle cx="90.4" cy="656.5" r="2.6" fill="#000" stroke="#fff" stroke-width="0.9"/>
<circle cx="91.9" cy="739.0" r="2.6" fill="#000" stroke="#fff" stroke-width="0.9"/>
<circle cx="93.6" cy="723.5" r="2.6" fill="#000" stroke="#fff" stroke-width="0.9"/>
<circle cx="95.3" cy="664.0" r="2.6" fill="#000" stroke="#fff" stroke-width="0.9"/>
<circle cx="98.7" cy="674.1" r="2.6" fill="#000" stroke="#fff" stroke-width="0.9"/>
<circle cx="101.9" cy="686.3" r="2.6" fill="#000" stroke="#fff" stroke-width="0.9"/>
<circle cx="105.2" cy="737.6" r="2.6" fill="#000" stroke="#fff" stroke-width="0.9"/>
<circle cx="113.5" cy="730.9" r="2.6" fill="#000" stroke="#fff" stroke-width="0.9"/>
<circle cx="121.8" cy="731.3" r="2.6" fill="#000" stroke="#fff" stroke-width="0.9"/>
<circle cx="130.5" cy="724.4" r="2.6" fill="#000" stroke="#fff" stroke-width="0.9"/>
<circle cx="138.4" cy="705.4" r="2.6" fill="#000" stroke="#fff" stroke-width="0.9"/>
<circle cx="155.3" cy="735.0" r="2.6" fill="#000" stroke="#fff" stroke-width="0.9"/>
<circle cx="188.8" cy="690.7" r="2.6" fill="#000" stroke="#fff" stroke-width="0.9"/>
<circle cx="221.8" cy="652.3" r="2.6" fill="#000" stroke="#fff" stroke-width="0.9"/>
<circle cx="255.3" cy="664.9" r="2.6" fill="#000" stroke="#fff" stroke-width="0.9"/>
<circle cx="338.5" cy="655.3" r="2.6" fill="#000" stroke="#fff" stroke-width="0.9"/>
<circle cx="422.0" cy="704.4" r="2.6" fill="#000" stroke="#fff" stroke-width="0.9"/>
<g transform="translate(8.2,701.1) rotate(-90)"><text x="0" y="0" font-size="13.5" textLength="54.80000000000007" lengthAdjust="spacingAndGlyphs"><tspan>&#945;</tspan><tspan font-size="10.5" dy="5.6">max</tspan><tspan dy="-5.6">&#8211;&#945;</tspan><tspan font-size="10.5" dy="5.6">min</tspan></text></g>
<text transform="translate(19.6,538.6) scale(1.13,1)" x="0" y="0" font-size="29.5">c</text>
<g clip-path="url(#clip_a1)">
<rect x="54" y="1" width="137" height="93.2" fill="#acacac"/>
<g><rect x="97.9" y="23.2" width="41.0" height="1.5" fill="#fff" opacity="0.12"/><rect x="54.0" y="2.2" width="107.9" height="1.2" fill="#000" opacity="0.15"/><rect x="57.7" y="51.4" width="49.8" height="1.5" fill="#000" opacity="0.12"/><rect x="54.0" y="87.3" width="112.2" height="1.2" fill="#fff" opacity="0.17"/><rect x="54.0" y="56.1" width="95.4" height="1.0" fill="#fff" opacity="0.19"/><rect x="79.4" y="86.8" width="130.4" height="1.2" fill="#000" opacity="0.12"/><rect x="54.0" y="82.9" width="133.5" height="0.7" fill="#fff" opacity="0.08"/><rect x="92.7" y="41.7" width="89.1" height="2.0" fill="#000" opacity="0.13"/><rect x="121.5" y="39.0" width="136.1" height="0.9" fill="#000" opacity="0.17"/><rect x="92.2" y="63.6" width="107.6" height="0.9" fill="#000" opacity="0.21"/><rect x="54.0" y="20.7" width="122.0" height="1.5" fill="#000" opacity="0.11"/><rect x="54.0" y="93.2" width="49.7" height="0.7" fill="#000" opacity="0.19"/><rect x="38.6" y="28.4" width="108.1" height="1.2" fill="#fff" opacity="0.07"/><rect x="54.0" y="31.8" width="35.0" height="1.0" fill="#000" opacity="0.10"/><rect x="63.8" y="11.1" width="61.3" height="1.5" fill="#fff" opacity="0.21"/><rect x="54.0" y="65.3" width="122.8" height="1.0" fill="#000" opacity="0.12"/><rect x="91.2" y="36.1" width="98.0" height="1.5" fill="#000" opacity="0.16"/><rect x="58.3" y="88.7" width="65.2" height="1.5" fill="#000" opacity="0.13"/><rect x="54.0" y="92.1" width="76.9" height="1.5" fill="#000" opacity="0.15"/><rect x="40.1" y="55.1" width="98.7" height="0.7" fill="#000" opacity="0.16"/><rect x="54.0" y="44.5" width="84.5" height="2.0" fill="#000" opacity="0.16"/><rect x="54.0" y="55.9" width="81.1" height="2.0" fill="#fff" opacity="0.21"/><rect x="54.0" y="56.2" width="72.2" height="1.0" fill="#fff" opacity="0.12"/><rect x="133.3" y="56.5" width="104.5" height="1.0" fill="#000" opacity="0.08"/><rect x="54.0" y="13.2" width="67.9" height="1.5" fill="#fff" opacity="0.16"/><rect x="54.0" y="64.2" width="68.5" height="2.0" fill="#fff" opacity="0.08"/><rect x="56.3" y="78.7" width="92.7" height="1.2" fill="#fff" opacity="0.07"/><rect x="54.0" y="26.2" width="117.1" height="0.7" fill="#fff" opacity="0.14"/><rect x="42.7" y="79.1" width="97.9" height="0.9" fill="#000" opacity="0.11"/><rect x="81.5" y="55.9" width="99.4" height="1.2" fill="#000" opacity="0.14"/><rect x="54.0" y="28.1" width="54.8" height="1.5" fill="#000" opacity="0.07"/><rect x="128.8" y="45.5" width="57.1" height="1.5" fill="#000" opacity="0.13"/><rect x="124.9" y="70.5" width="122.8" height="2.0" fill="#000" opacity="0.21"/><rect x="54.0" y="81.0" width="127.1" height="1.0" fill="#fff" opacity="0.19"/><rect x="54.0" y="65.7" width="110.8" height="0.9" fill="#000" opacity="0.15"/><rect x="76.3" y="17.0" width="130.7" height="1.0" fill="#fff" opacity="0.17"/><rect x="82.8" y="58.1" width="114.6" height="1.0" fill="#fff" opacity="0.10"/><rect x="51.5" y="33.8" width="115.6" height="0.9" fill="#fff" opacity="0.15"/><rect x="74.9" y="86.9" width="112.0" height="0.9" fill="#fff" opacity="0.14"/><rect x="54.0" y="24.1" width="67.5" height="1.5" fill="#000" opacity="0.14"/><rect x="54.0" y="77.4" width="83.9" height="0.7" fill="#fff" opacity="0.07"/><rect x="54.0" y="4.1" width="50.4" height="2.0" fill="#fff" opacity="0.14"/><rect x="54.0" y="7.7" width="53.9" height="1.2" fill="#000" opacity="0.15"/><rect x="72.9" y="31.6" width="42.5" height="0.7" fill="#fff" opacity="0.15"/><rect x="72.9" y="17.6" width="116.6" height="1.0" fill="#000" opacity="0.16"/><rect x="54.0" y="59.1" width="106.5" height="1.2" fill="#fff" opacity="0.12"/><rect x="54.0" y="40.2" width="89.3" height="2.0" fill="#000" opacity="0.13"/><rect x="54.0" y="65.8" width="37.1" height="0.7" fill="#000" opacity="0.10"/><rect x="130.0" y="31.3" width="109.4" height="1.5" fill="#000" opacity="0.08"/><rect x="91.6" y="80.2" width="44.8" height="1.5" fill="#000" opacity="0.17"/></g>
<rect x="54" y="1" width="137" height="93.2" fill="#fff" filter="url(#gr_a1)" opacity="0.13"/>

<ellipse cx="118" cy="46" rx="52" ry="34" fill="#fff" opacity="0.2" filter="url(#b8)"/>
<g mask="url(#m_a1)"><rect x="54" y="1" width="137" height="93" fill="url(#hatch)" opacity="0.22"/><rect x="54" y="1" width="137" height="93" fill="url(#hatch2)" opacity="0.12"/></g>
<path d="M172,-3 Q192,20 189,50 Q187,80 168,97" fill="none" stroke="#000" stroke-width="6" opacity="0.5" filter="url(#band1)"/>
<path d="M172,-3 Q192,20 189,50 Q187,80 168,97" fill="none" stroke="#000" stroke-width="5" opacity="0.15" filter="url(#b2)"/>
<path d="M50,60 Q66,82 92,98" fill="none" stroke="#000" stroke-width="10" opacity="0.45" filter="url(#band2)"/>
<path d="M50,60 Q66,82 92,98" fill="none" stroke="#000" stroke-width="8" opacity="0.15" filter="url(#b3)"/>
<path d="M50,16 Q58,6 70,-3" fill="none" stroke="#000" stroke-width="10" opacity="0.45" filter="url(#band3)"/>
<rect x="54" y="19" width="120" height="1.5" fill="#fff" opacity="0.35"/>
<rect x="54" y="21.5" width="137" height="1.2" fill="#333" opacity="0.25"/>
<rect x="54" y="67.5" width="137" height="1.2" fill="#333" opacity="0.2"/>
<rect x="185" y="11.5" width="8" height="2.5" fill="#fff" opacity="0.8"/>
<rect x="186" y="70" width="8" height="24" fill="#fff" opacity="0.25" filter="url(#b2)"/>

</g>
<text x="59.2" y="13.8" font-weight="bold" font-size="13.5" class="w" textLength="8.8" lengthAdjust="spacingAndGlyphs" font-family="Liberation Mono">1</text>
<text x="56.3" y="89.2" font-weight="bold" font-size="14" letter-spacing="1.1" class="w" textLength="56.5" lengthAdjust="spacingAndGlyphs">N=600</text>
<g clip-path="url(#clip_a2)">
<rect x="193" y="1" width="137" height="93.2" fill="#b0b0b0"/>
<g><rect x="248.6" y="59.1" width="129.0" height="2.0" fill="#000" opacity="0.19"/><rect x="184.6" y="3.7" width="82.4" height="1.2" fill="#fff" opacity="0.16"/><rect x="193.0" y="24.0" width="56.5" height="1.5" fill="#fff" opacity="0.15"/><rect x="193.0" y="27.0" width="97.7" height="1.2" fill="#fff" opacity="0.18"/><rect x="193.0" y="42.5" width="113.7" height="0.9" fill="#fff" opacity="0.22"/><rect x="228.1" y="90.5" width="103.9" height="0.9" fill="#fff" opacity="0.11"/><rect x="203.5" y="20.1" width="71.4" height="2.0" fill="#fff" opacity="0.21"/><rect x="193.0" y="16.5" width="96.2" height="0.9" fill="#000" opacity="0.07"/><rect x="193.0" y="1.3" width="65.7" height="2.0" fill="#000" opacity="0.07"/><rect x="193.0" y="65.9" width="60.6" height="0.9" fill="#000" opacity="0.14"/><rect x="193.0" y="88.5" width="115.2" height="2.0" fill="#000" opacity="0.20"/><rect x="236.7" y="35.1" width="132.3" height="1.5" fill="#fff" opacity="0.13"/><rect x="193.0" y="12.1" width="88.2" height="0.9" fill="#000" opacity="0.12"/><rect x="260.9" y="73.3" width="38.0" height="0.7" fill="#000" opacity="0.18"/><rect x="266.8" y="89.1" width="69.2" height="0.7" fill="#fff" opacity="0.11"/><rect x="193.0" y="87.1" width="52.5" height="1.5" fill="#fff" opacity="0.11"/><rect x="193.0" y="8.3" width="39.2" height="0.9" fill="#000" opacity="0.22"/><rect x="208.1" y="93.0" width="60.0" height="1.5" fill="#000" opacity="0.07"/><rect x="254.9" y="61.7" width="68.6" height="0.9" fill="#fff" opacity="0.22"/><rect x="253.5" y="20.3" width="45.2" height="2.0" fill="#000" opacity="0.21"/><rect x="193.0" y="41.5" width="80.8" height="0.9" fill="#fff" opacity="0.20"/><rect x="193.0" y="94.1" width="109.2" height="0.9" fill="#000" opacity="0.13"/><rect x="193.0" y="45.6" width="73.0" height="1.0" fill="#000" opacity="0.12"/><rect x="193.0" y="93.1" width="84.8" height="0.9" fill="#000" opacity="0.20"/><rect x="252.2" y="49.0" width="105.6" height="1.5" fill="#000" opacity="0.12"/><rect x="258.4" y="62.9" width="61.5" height="1.0" fill="#000" opacity="0.15"/><rect x="193.0" y="92.4" width="52.6" height="2.0" fill="#000" opacity="0.21"/><rect x="193.0" y="80.4" width="62.4" height="1.2" fill="#000" opacity="0.18"/><rect x="248.4" y="27.9" width="119.3" height="1.5" fill="#000" opacity="0.12"/><rect x="226.0" y="33.6" width="88.6" height="0.9" fill="#000" opacity="0.22"/><rect x="193.0" y="16.5" width="103.2" height="1.0" fill="#000" opacity="0.11"/><rect x="203.9" y="39.8" width="91.1" height="1.5" fill="#000" opacity="0.14"/><rect x="236.8" y="81.8" width="52.8" height="1.0" fill="#fff" opacity="0.09"/><rect x="189.9" y="71.7" width="125.9" height="0.9" fill="#fff" opacity="0.22"/><rect x="193.0" y="11.3" width="82.1" height="0.9" fill="#000" opacity="0.09"/><rect x="193.0" y="36.4" width="127.1" height="1.5" fill="#fff" opacity="0.15"/><rect x="243.4" y="1.1" width="90.5" height="1.2" fill="#000" opacity="0.20"/><rect x="193.0" y="90.9" width="86.9" height="1.5" fill="#000" opacity="0.11"/><rect x="193.0" y="89.6" width="117.8" height="1.0" fill="#000" opacity="0.19"/><rect x="230.6" y="60.9" width="132.6" height="1.0" fill="#000" opacity="0.08"/><rect x="173.1" y="91.2" width="45.3" height="1.5" fill="#fff" opacity="0.12"/><rect x="264.1" y="53.7" width="72.9" height="1.5" fill="#000" opacity="0.08"/><rect x="211.8" y="41.2" width="133.0" height="0.9" fill="#000" opacity="0.11"/><rect x="223.7" y="86.2" width="76.9" height="1.5" fill="#000" opacity="0.10"/><rect x="193.0" y="30.7" width="36.7" height="1.0" fill="#000" opacity="0.21"/><rect x="257.5" y="62.5" width="35.6" height="1.2" fill="#fff" opacity="0.11"/><rect x="198.1" y="50.6" width="61.8" height="1.0" fill="#fff" opacity="0.21"/><rect x="226.0" y="15.4" width="123.0" height="1.0" fill="#000" opacity="0.14"/><rect x="193.0" y="83.1" width="89.1" height="0.7" fill="#fff" opacity="0.18"/><rect x="193.0" y="32.3" width="104.3" height="1.0" fill="#000" opacity="0.06"/></g>
<rect x="193" y="1" width="137" height="93.2" fill="#fff" filter="url(#gr_a2)" opacity="0.13"/>

<ellipse cx="252" cy="45" rx="48" ry="26" fill="#fff" opacity="0.16" filter="url(#b8)"/>
<ellipse cx="233" cy="45" rx="30" ry="21" fill="#fff" opacity="0.5" filter="url(#b6)"/>
<path d="M232,-3 Q204,18 200,46 Q203,74 234,97" fill="none" stroke="#000" stroke-width="11" opacity="0.6" filter="url(#band1)"/>
<path d="M232,-3 Q204,18 200,46 Q203,74 234,97" fill="none" stroke="#000" stroke-width="8" opacity="0.12" filter="url(#b2)"/>
<g fill="none" stroke="#000" stroke-width="1.3" opacity="0.17" filter="url(#band2)">
<path d="M238,3 Q213,22 210,46 Q212,68 238,88"/>
<path d="M243,8 Q219,25 216,46 Q218,65 243,83"/>
<path d="M248,13 Q225,28 222,46 Q224,62 248,78"/>
<path d="M254,18 Q232,31 229,46 Q231,59 254,72"/>
<path d="M260,23 Q240,34 237,46 Q239,56 260,66"/>
</g>
<path d="M232,0 Q280,-4 318,2" fill="none" stroke="#000" stroke-width="5" opacity="0.35" filter="url(#band3)"/>
<path d="M312,-3 Q330,15 331,47 Q330,80 314,97" fill="none" stroke="#000" stroke-width="4" opacity="0.5" filter="url(#band4)"/>
<path d="M256,60.5 L284,60.5" stroke="#1a1a1a" stroke-width="3" opacity="0.35" stroke-linecap="round" filter="url(#b1)"/>
<path d="M222,65 L262,66" stroke="#222" stroke-width="2" opacity="0.3" filter="url(#b1)"/>
<path d="M245,29 L310,28" stroke="#222" stroke-width="3" opacity="0.22" filter="url(#b1)"/>

</g>
<text x="198.7" y="13.6" font-weight="bold" font-size="13.5" class="w" textLength="9.5" lengthAdjust="spacingAndGlyphs">2</text>
<text x="196.5" y="89.8" font-weight="bold" font-size="14" letter-spacing="1.1" class="w" textLength="46.4" lengthAdjust="spacingAndGlyphs">N=4k</text>
<g clip-path="url(#clip_a3)">
<rect x="332" y="1" width="137" height="93.2" fill="#b2b2b2"/>
<g><rect x="332.0" y="31.2" width="89.3" height="0.9" fill="#000" opacity="0.16"/><rect x="332.0" y="35.1" width="77.2" height="0.7" fill="#000" opacity="0.09"/><rect x="408.8" y="23.4" width="99.0" height="1.5" fill="#000" opacity="0.07"/><rect x="332.0" y="55.3" width="57.0" height="0.7" fill="#000" opacity="0.15"/><rect x="370.3" y="52.9" width="91.8" height="0.9" fill="#000" opacity="0.13"/><rect x="332.0" y="64.6" width="44.3" height="0.7" fill="#000" opacity="0.15"/><rect x="332.0" y="67.4" width="88.9" height="1.5" fill="#fff" opacity="0.16"/><rect x="332.0" y="73.4" width="59.8" height="1.2" fill="#000" opacity="0.21"/><rect x="401.4" y="17.8" width="109.2" height="0.9" fill="#fff" opacity="0.15"/><rect x="332.0" y="27.8" width="69.4" height="0.7" fill="#fff" opacity="0.14"/><rect x="332.0" y="88.0" width="91.6" height="1.2" fill="#fff" opacity="0.21"/><rect x="371.3" y="74.5" width="81.1" height="1.0" fill="#000" opacity="0.17"/><rect x="332.0" y="79.3" width="109.4" height="1.0" fill="#000" opacity="0.17"/><rect x="332.0" y="29.9" width="103.0" height="1.5" fill="#000" opacity="0.11"/><rect x="332.0" y="3.1" width="40.3" height="1.2" fill="#000" opacity="0.09"/><rect x="362.7" y="72.6" width="51.3" height="0.9" fill="#fff" opacity="0.12"/><rect x="340.5" y="38.4" width="76.9" height="1.0" fill="#fff" opacity="0.19"/><rect x="332.0" y="34.4" width="58.1" height="1.2" fill="#fff" opacity="0.08"/><rect x="332.0" y="22.7" width="49.2" height="1.2" fill="#000" opacity="0.09"/><rect x="332.0" y="50.8" width="122.5" height="1.5" fill="#000" opacity="0.11"/><rect x="409.3" y="89.6" width="104.2" height="2.0" fill="#fff" opacity="0.13"/><rect x="332.0" y="53.1" width="75.4" height="1.2" fill="#000" opacity="0.12"/><rect x="332.0" y="18.8" width="39.7" height="0.9" fill="#000" opacity="0.09"/><rect x="332.0" y="1.0" width="36.9" height="0.9" fill="#000" opacity="0.08"/><rect x="332.0" y="82.5" width="69.9" height="1.5" fill="#000" opacity="0.08"/><rect x="359.6" y="34.9" width="84.0" height="0.7" fill="#fff" opacity="0.20"/><rect x="332.0" y="9.0" width="105.4" height="0.7" fill="#000" opacity="0.18"/><rect x="405.4" y="49.1" width="112.1" height="0.9" fill="#000" opacity="0.12"/><rect x="332.0" y="28.8" width="71.9" height="2.0" fill="#fff" opacity="0.17"/><rect x="377.0" y="16.6" width="97.3" height="0.9" fill="#000" opacity="0.15"/><rect x="335.2" y="74.5" width="87.4" height="0.9" fill="#fff" opacity="0.19"/><rect x="332.0" y="34.1" width="54.1" height="0.7" fill="#fff" opacity="0.19"/><rect x="347.7" y="57.4" width="134.4" height="1.0" fill="#000" opacity="0.19"/><rect x="332.0" y="8.5" width="83.8" height="0.7" fill="#fff" opacity="0.14"/><rect x="393.7" y="92.8" width="43.0" height="1.5" fill="#fff" opacity="0.14"/><rect x="332.0" y="62.6" width="115.3" height="1.2" fill="#fff" opacity="0.14"/><rect x="320.7" y="32.0" width="50.6" height="2.0" fill="#000" opacity="0.13"/><rect x="332.0" y="93.6" width="101.6" height="0.7" fill="#fff" opacity="0.15"/><rect x="332.0" y="58.0" width="90.6" height="1.5" fill="#000" opacity="0.17"/><rect x="356.3" y="13.2" width="123.8" height="0.7" fill="#fff" opacity="0.14"/><rect x="332.0" y="78.0" width="59.0" height="0.9" fill="#fff" opacity="0.10"/><rect x="332.0" y="55.7" width="127.8" height="1.0" fill="#000" opacity="0.13"/><rect x="396.5" y="34.0" width="124.5" height="1.2" fill="#000" opacity="0.19"/><rect x="391.4" y="13.2" width="96.8" height="0.9" fill="#000" opacity="0.14"/><rect x="324.3" y="73.3" width="40.6" height="0.9" fill="#fff" opacity="0.08"/><rect x="402.3" y="64.6" width="40.1" height="1.5" fill="#000" opacity="0.14"/><rect x="389.7" y="18.8" width="128.0" height="0.7" fill="#fff" opacity="0.14"/><rect x="332.0" y="42.3" width="62.7" height="1.5" fill="#000" opacity="0.16"/><rect x="401.6" y="48.4" width="131.1" height="1.2" fill="#000" opacity="0.21"/><rect x="332.0" y="25.2" width="46.7" height="1.5" fill="#fff" opacity="0.19"/></g>
<rect x="332" y="1" width="137" height="93.2" fill="#fff" filter="url(#gr_a3)" opacity="0.13"/>

<ellipse cx="362" cy="42" rx="24" ry="14" fill="#fff" opacity="0.3" filter="url(#b6)"/>
<path d="M350,-3 Q335,12 334,30 Q332,56 343,71 Q355,87 375,97" fill="none" stroke="#000" stroke-width="8" opacity="0.75" filter="url(#band3)"/>
<g fill="none" stroke="#000" stroke-width="2" opacity="0.35" filter="url(#band4)">
<path d="M360,4 Q343,20 342,40 Q343,60 360,74"/>
<path d="M368,10 Q351,24 350,40 Q351,56 366,68"/>
</g>
<rect x="326" y="-3" width="18" height="22" fill="#333" opacity="0.5" filter="url(#b3)"/>
<rect x="326" y="72" width="14" height="26" fill="#444" opacity="0.35" filter="url(#b3)"/>
<path d="M366,20 Q368,18.2 375,18.3 L399,19.5 L399,20.5 L375,21.8 Q368,21.8 366,20 Z" fill="#111" opacity="0.55" filter="url(#b07)"/>
<path d="M377,30.5 Q379,28.7 386,28.8 L409,30 L409,31 L386,32.3 Q379,32.3 377,30.5 Z" fill="#111" opacity="0.5" filter="url(#b07)"/>
<path d="M365,47.8 Q367,45.8 374,45.9 L399,47.2 L399,48.4 L374,49.8 Q367,49.8 365,47.8 Z" fill="#111" opacity="0.62" filter="url(#b07)"/>
<path d="M338,55.5 L372,56.5 L406,59.5 L372,62.5 L338,63.5 Z" fill="#111" opacity="0.6" filter="url(#b1)"/>
<path d="M349,66 L398,66" stroke="#222" stroke-width="2" opacity="0.3" filter="url(#b1)"/>
<path d="M380,10 L440,9" stroke="#222" stroke-width="2" opacity="0.25" filter="url(#b1)"/>
<path d="M455,-3 Q472,20 469,47 Q470,75 458,97" fill="none" stroke="#222" stroke-width="3.5" opacity="0.5" filter="url(#rough3)"/>
<path d="M440,43 L456,43" stroke="#222" stroke-width="1.5" opacity="0.35"/>

</g>
<text x="340.9" y="13.3" font-weight="bold" font-size="13.5" class="w" textLength="9.8" lengthAdjust="spacingAndGlyphs">3</text>
<text x="338.5" y="89.5" font-weight="bold" font-size="14" letter-spacing="1.1" class="w" textLength="56.0" lengthAdjust="spacingAndGlyphs">N=10k</text>
<g clip-path="url(#clip_b1)">
<rect x="56" y="293.5" width="133" height="91" fill="#c3c3c3"/>
<g><rect x="55.0" y="334.7" width="113.4" height="1.5" fill="#000" opacity="0.13"/><rect x="56.0" y="336.8" width="42.3" height="1.5" fill="#fff" opacity="0.08"/><rect x="56.0" y="367.2" width="78.4" height="2.0" fill="#fff" opacity="0.16"/><rect x="42.3" y="360.7" width="36.8" height="2.0" fill="#fff" opacity="0.16"/><rect x="56.0" y="373.5" width="92.2" height="1.5" fill="#fff" opacity="0.18"/><rect x="81.6" y="311.3" width="61.0" height="0.9" fill="#000" opacity="0.14"/><rect x="56.0" y="384.3" width="62.1" height="0.7" fill="#000" opacity="0.11"/><rect x="56.0" y="299.9" width="39.9" height="0.7" fill="#000" opacity="0.08"/><rect x="41.2" y="295.0" width="70.7" height="2.0" fill="#fff" opacity="0.09"/><rect x="56.0" y="358.0" width="100.6" height="1.2" fill="#fff" opacity="0.15"/><rect x="56.0" y="324.2" width="125.3" height="1.0" fill="#000" opacity="0.06"/><rect x="56.0" y="305.7" width="81.8" height="2.0" fill="#fff" opacity="0.06"/><rect x="112.8" y="355.6" width="75.1" height="0.9" fill="#000" opacity="0.14"/><rect x="56.0" y="328.4" width="119.5" height="1.2" fill="#000" opacity="0.22"/><rect x="56.0" y="382.2" width="51.9" height="1.5" fill="#000" opacity="0.22"/><rect x="57.3" y="384.1" width="59.0" height="1.5" fill="#000" opacity="0.08"/><rect x="56.0" y="363.8" width="54.1" height="1.0" fill="#000" opacity="0.12"/><rect x="48.7" y="351.4" width="91.8" height="0.7" fill="#000" opacity="0.12"/><rect x="56.0" y="369.2" width="123.9" height="0.9" fill="#000" opacity="0.09"/><rect x="91.3" y="367.9" width="101.8" height="0.9" fill="#fff" opacity="0.09"/><rect x="56.0" y="328.8" width="44.1" height="1.2" fill="#000" opacity="0.07"/><rect x="56.0" y="340.1" width="75.2" height="1.0" fill="#fff" opacity="0.18"/><rect x="133.5" y="375.8" width="45.9" height="1.2" fill="#000" opacity="0.14"/><rect x="56.0" y="337.1" width="124.8" height="2.0" fill="#000" opacity="0.16"/><rect x="56.0" y="312.1" width="39.3" height="0.7" fill="#fff" opacity="0.10"/><rect x="56.0" y="309.5" width="69.4" height="1.0" fill="#000" opacity="0.15"/><rect x="56.0" y="374.6" width="36.7" height="1.0" fill="#000" opacity="0.15"/><rect x="56.0" y="295.1" width="96.7" height="1.0" fill="#000" opacity="0.21"/><rect x="43.5" y="337.4" width="87.7" height="2.0" fill="#000" opacity="0.11"/><rect x="71.1" y="360.6" width="101.6" height="2.0" fill="#fff" opacity="0.19"/><rect x="98.4" y="375.5" width="71.4" height="1.2" fill="#fff" opacity="0.20"/><rect x="135.1" y="346.5" width="121.0" height="1.5" fill="#fff" opacity="0.07"/><rect x="56.0" y="359.8" width="87.2" height="1.2" fill="#000" opacity="0.13"/><rect x="56.0" y="340.7" width="35.5" height="1.5" fill="#fff" opacity="0.11"/><rect x="84.5" y="380.6" width="122.7" height="0.7" fill="#000" opacity="0.18"/><rect x="56.0" y="327.0" width="123.6" height="0.9" fill="#000" opacity="0.09"/><rect x="56.0" y="353.6" width="99.7" height="1.2" fill="#000" opacity="0.20"/><rect x="56.0" y="311.6" width="91.4" height="1.2" fill="#fff" opacity="0.20"/><rect x="120.7" y="322.3" width="104.2" height="0.9" fill="#fff" opacity="0.14"/><rect x="56.0" y="380.0" width="125.6" height="1.0" fill="#fff" opacity="0.08"/><rect x="56.0" y="369.1" width="117.0" height="1.2" fill="#000" opacity="0.14"/><rect x="56.0" y="382.9" width="120.3" height="1.2" fill="#000" opacity="0.07"/><rect x="56.0" y="297.3" width="112.2" height="2.0" fill="#000" opacity="0.15"/><rect x="56.0" y="295.2" width="116.0" height="0.9" fill="#000" opacity="0.13"/><rect x="56.0" y="315.1" width="44.1" height="0.9" fill="#fff" opacity="0.22"/><rect x="55.9" y="342.2" width="80.6" height="2.0" fill="#000" opacity="0.21"/><rect x="56.0" y="309.8" width="55.8" height="0.7" fill="#000" opacity="0.15"/><rect x="51.9" y="364.4" width="117.9" height="1.5" fill="#000" opacity="0.14"/><rect x="74.7" y="357.2" width="78.2" height="0.9" fill="#fff" opacity="0.13"/><rect x="86.2" y="311.4" width="115.0" height="0.7" fill="#000" opacity="0.15"/></g>
<rect x="56" y="293.5" width="133" height="91" fill="#fff" filter="url(#gr_b1)" opacity="0.13"/>

<rect x="56" y="293" width="134" height="92" fill="#000" opacity="0.1"/>
<ellipse cx="116" cy="335" rx="48" ry="33" fill="#fff" opacity="0.24" filter="url(#b2)"/>
<ellipse cx="116" cy="334" rx="46" ry="31" fill="none" stroke="#4a4a4a" stroke-width="2.2" opacity="0.2" filter="url(#rough1)"/>
<ellipse cx="116" cy="337" rx="40" ry="22" fill="#000" opacity="0.36" filter="url(#blob1)"/>

<ellipse cx="180" cy="338" rx="12" ry="20" fill="#fff" opacity="0.25" filter="url(#b4)"/>

</g>
<text x="61.6" y="305.6" font-weight="bold" font-size="13.5" class="w" textLength="8.4" lengthAdjust="spacingAndGlyphs" font-family="Liberation Mono">1</text>
<text x="58.8" y="379.9" font-weight="bold" font-size="14" letter-spacing="1.1" class="w" textLength="54.8" lengthAdjust="spacingAndGlyphs">N=400</text>
<g clip-path="url(#clip_b2)">
<rect x="193" y="293.5" width="133" height="91" fill="#bfbfbf"/>
<g><rect x="259.7" y="317.1" width="97.2" height="2.0" fill="#fff" opacity="0.16"/><rect x="176.0" y="310.6" width="45.8" height="0.7" fill="#000" opacity="0.20"/><rect x="193.0" y="355.8" width="112.5" height="0.7" fill="#000" opacity="0.19"/><rect x="252.2" y="374.3" width="58.9" height="1.0" fill="#000" opacity="0.18"/><rect x="193.0" y="370.8" width="69.6" height="1.2" fill="#000" opacity="0.15"/><rect x="236.3" y="332.6" width="59.5" height="1.0" fill="#fff" opacity="0.12"/><rect x="226.5" y="334.3" width="62.5" height="1.5" fill="#fff" opacity="0.13"/><rect x="193.0" y="309.8" width="61.2" height="1.0" fill="#000" opacity="0.12"/><rect x="261.5" y="374.4" width="103.2" height="1.5" fill="#000" opacity="0.15"/><rect x="266.1" y="305.4" width="37.6" height="1.2" fill="#000" opacity="0.12"/><rect x="193.0" y="306.4" width="74.5" height="2.0" fill="#000" opacity="0.16"/><rect x="224.9" y="372.5" width="98.8" height="1.0" fill="#fff" opacity="0.17"/><rect x="193.0" y="375.5" width="119.2" height="2.0" fill="#000" opacity="0.10"/><rect x="229.9" y="297.4" width="51.4" height="2.0" fill="#000" opacity="0.07"/><rect x="193.0" y="311.1" width="40.1" height="2.0" fill="#000" opacity="0.08"/><rect x="255.4" y="352.1" width="97.6" height="1.5" fill="#000" opacity="0.17"/><rect x="193.0" y="341.4" width="60.1" height="0.9" fill="#000" opacity="0.08"/><rect x="176.6" y="347.9" width="65.1" height="0.7" fill="#000" opacity="0.14"/><rect x="193.0" y="307.6" width="100.0" height="1.5" fill="#000" opacity="0.14"/><rect x="246.7" y="320.5" width="59.0" height="0.7" fill="#000" opacity="0.14"/><rect x="193.0" y="355.7" width="110.3" height="0.9" fill="#000" opacity="0.13"/><rect x="193.0" y="347.4" width="64.9" height="1.2" fill="#fff" opacity="0.16"/><rect x="193.0" y="335.4" width="110.4" height="0.7" fill="#fff" opacity="0.16"/><rect x="193.0" y="310.8" width="85.9" height="1.2" fill="#000" opacity="0.12"/><rect x="194.8" y="380.1" width="63.5" height="0.9" fill="#fff" opacity="0.08"/><rect x="193.0" y="328.8" width="77.3" height="0.7" fill="#000" opacity="0.08"/><rect x="193.0" y="373.3" width="129.8" height="1.2" fill="#fff" opacity="0.12"/><rect x="262.3" y="298.0" width="124.3" height="0.9" fill="#000" opacity="0.18"/><rect x="193.0" y="355.5" width="59.6" height="0.7" fill="#000" opacity="0.21"/><rect x="224.9" y="368.3" width="125.1" height="0.7" fill="#fff" opacity="0.17"/><rect x="262.6" y="333.6" width="44.8" height="1.5" fill="#000" opacity="0.16"/><rect x="193.0" y="306.0" width="129.2" height="1.5" fill="#000" opacity="0.15"/><rect x="193.0" y="320.6" width="105.8" height="0.7" fill="#000" opacity="0.07"/><rect x="253.7" y="303.3" width="75.6" height="2.0" fill="#000" opacity="0.20"/><rect x="193.0" y="350.1" width="42.7" height="2.0" fill="#000" opacity="0.21"/><rect x="193.0" y="330.4" width="48.2" height="1.2" fill="#000" opacity="0.12"/><rect x="193.0" y="320.9" width="55.8" height="1.5" fill="#fff" opacity="0.15"/><rect x="252.9" y="383.8" width="74.1" height="1.0" fill="#000" opacity="0.09"/><rect x="244.3" y="307.6" width="116.2" height="1.5" fill="#000" opacity="0.13"/><rect x="193.0" y="296.1" width="43.5" height="0.7" fill="#000" opacity="0.19"/><rect x="193.0" y="347.1" width="85.3" height="1.0" fill="#fff" opacity="0.20"/><rect x="250.5" y="369.4" width="101.2" height="0.9" fill="#000" opacity="0.06"/><rect x="215.7" y="320.6" width="108.1" height="1.5" fill="#fff" opacity="0.16"/><rect x="193.0" y="314.0" width="83.5" height="0.7" fill="#000" opacity="0.08"/><rect x="272.1" y="345.5" width="56.7" height="1.0" fill="#fff" opacity="0.16"/><rect x="193.0" y="339.9" width="79.8" height="0.7" fill="#fff" opacity="0.12"/><rect x="232.0" y="325.6" width="58.9" height="0.9" fill="#000" opacity="0.18"/><rect x="193.0" y="305.7" width="97.3" height="2.0" fill="#fff" opacity="0.16"/><rect x="211.0" y="349.0" width="114.5" height="1.5" fill="#fff" opacity="0.18"/><rect x="217.4" y="338.9" width="128.3" height="1.5" fill="#000" opacity="0.13"/></g>
<rect x="193" y="293.5" width="133" height="91" fill="#fff" filter="url(#gr_b2)" opacity="0.13"/>

<rect x="193" y="293" width="134" height="92" fill="#000" opacity="0.1"/>
<ellipse cx="252" cy="335" rx="49" ry="35" fill="#fff" opacity="0.24" filter="url(#b15)"/>
<ellipse cx="252" cy="335" rx="50" ry="36" fill="none" stroke="#3a3a3a" stroke-width="2.4" opacity="0.45" filter="url(#rough2)"/>
<ellipse cx="251" cy="335" rx="34" ry="28" fill="#000" opacity="0.36" filter="url(#blob2)"/>


</g>
<text x="197.3" y="305.6" font-weight="bold" font-size="13.5" class="w" textLength="9.5" lengthAdjust="spacingAndGlyphs">2</text>
<text x="195.0" y="380.6" font-weight="bold" font-size="14" letter-spacing="1.1" class="w" textLength="44.3" lengthAdjust="spacingAndGlyphs">N=2k</text>
<g clip-path="url(#clip_b3)">
<rect x="330" y="293.5" width="134" height="91" fill="#bcbcbc"/>
<g><rect x="380.7" y="341.0" width="100.0" height="1.0" fill="#000" opacity="0.11"/><rect x="335.3" y="303.5" width="83.9" height="0.7" fill="#fff" opacity="0.12"/><rect x="324.0" y="322.4" width="113.1" height="2.0" fill="#000" opacity="0.08"/><rect x="331.1" y="311.4" width="87.8" height="2.0" fill="#000" opacity="0.15"/><rect x="330.0" y="373.8" width="127.9" height="2.0" fill="#fff" opacity="0.11"/><rect x="330.0" y="336.6" width="84.4" height="1.5" fill="#fff" opacity="0.17"/><rect x="384.2" y="324.1" width="38.6" height="1.2" fill="#000" opacity="0.15"/><rect x="330.0" y="336.9" width="89.5" height="1.5" fill="#fff" opacity="0.20"/><rect x="330.0" y="380.6" width="61.2" height="1.5" fill="#000" opacity="0.07"/><rect x="330.0" y="361.5" width="99.7" height="1.5" fill="#000" opacity="0.15"/><rect x="368.1" y="376.9" width="60.9" height="1.0" fill="#fff" opacity="0.11"/><rect x="330.0" y="294.4" width="97.1" height="1.0" fill="#fff" opacity="0.13"/><rect x="401.4" y="359.8" width="35.6" height="1.0" fill="#000" opacity="0.07"/><rect x="406.4" y="344.8" width="92.8" height="2.0" fill="#fff" opacity="0.12"/><rect x="401.1" y="329.1" width="38.5" height="0.9" fill="#000" opacity="0.21"/><rect x="330.0" y="382.1" width="126.6" height="1.0" fill="#000" opacity="0.19"/><rect x="330.0" y="301.9" width="41.0" height="1.0" fill="#000" opacity="0.17"/><rect x="367.8" y="301.2" width="114.0" height="2.0" fill="#fff" opacity="0.10"/><rect x="330.0" y="298.0" width="89.2" height="1.2" fill="#000" opacity="0.12"/><rect x="333.0" y="340.4" width="65.5" height="1.2" fill="#fff" opacity="0.21"/><rect x="367.0" y="310.7" width="76.0" height="1.0" fill="#000" opacity="0.06"/><rect x="333.2" y="374.8" width="65.0" height="1.0" fill="#000" opacity="0.09"/><rect x="330.0" y="309.2" width="42.9" height="0.9" fill="#000" opacity="0.13"/><rect x="365.6" y="303.1" width="51.5" height="0.7" fill="#fff" opacity="0.21"/><rect x="330.0" y="335.7" width="34.7" height="1.5" fill="#fff" opacity="0.15"/><rect x="330.0" y="317.5" width="38.7" height="0.7" fill="#000" opacity="0.11"/><rect x="330.0" y="302.5" width="124.6" height="2.0" fill="#fff" opacity="0.06"/><rect x="402.8" y="349.2" width="120.7" height="0.7" fill="#fff" opacity="0.13"/><rect x="330.0" y="296.2" width="87.7" height="1.2" fill="#fff" opacity="0.13"/><rect x="330.0" y="310.6" width="88.1" height="1.5" fill="#000" opacity="0.10"/><rect x="409.9" y="368.1" width="41.6" height="1.2" fill="#000" opacity="0.21"/><rect x="330.0" y="361.7" width="46.3" height="0.7" fill="#000" opacity="0.11"/><rect x="330.0" y="369.7" width="40.9" height="1.2" fill="#000" opacity="0.13"/><rect x="330.0" y="331.8" width="84.2" height="2.0" fill="#fff" opacity="0.14"/><rect x="330.0" y="382.2" width="77.5" height="1.5" fill="#fff" opacity="0.19"/><rect x="330.0" y="375.2" width="89.7" height="1.5" fill="#000" opacity="0.18"/><rect x="338.3" y="308.5" width="127.3" height="1.5" fill="#000" opacity="0.14"/><rect x="330.0" y="299.5" width="57.2" height="0.9" fill="#fff" opacity="0.20"/><rect x="339.0" y="343.3" width="57.9" height="1.5" fill="#000" opacity="0.18"/><rect x="330.0" y="316.3" width="83.0" height="0.9" fill="#000" opacity="0.06"/><rect x="330.0" y="332.7" width="63.3" height="1.5" fill="#000" opacity="0.10"/><rect x="330.0" y="319.8" width="60.2" height="1.2" fill="#000" opacity="0.08"/><rect x="330.0" y="328.4" width="44.0" height="1.0" fill="#000" opacity="0.14"/><rect x="330.0" y="367.9" width="120.7" height="2.0" fill="#000" opacity="0.10"/><rect x="330.0" y="369.9" width="74.1" height="1.2" fill="#000" opacity="0.10"/><rect x="368.4" y="376.2" width="68.9" height="0.9" fill="#000" opacity="0.06"/><rect x="355.1" y="352.7" width="111.1" height="1.2" fill="#000" opacity="0.16"/><rect x="384.0" y="308.3" width="104.6" height="1.2" fill="#fff" opacity="0.09"/><rect x="345.6" y="311.3" width="83.8" height="2.0" fill="#000" opacity="0.07"/><rect x="318.8" y="304.9" width="57.2" height="1.5" fill="#000" opacity="0.18"/></g>
<rect x="330" y="293.5" width="134" height="91" fill="#fff" filter="url(#gr_b3)" opacity="0.13"/>

<rect x="330" y="293" width="134" height="92" fill="#000" opacity="0.08"/>
<ellipse cx="382" cy="337.5" rx="47" ry="37" fill="#fff" opacity="0.2" filter="url(#b2)"/>
<ellipse cx="382" cy="337.5" rx="47" ry="37" fill="none" stroke="#3a3a3a" stroke-width="3" opacity="0.4" filter="url(#rough3)"/>
<ellipse cx="386" cy="335" rx="37" ry="30" fill="#000" opacity="0.34" filter="url(#blob3)"/>
<ellipse cx="386" cy="335" rx="34" ry="27" fill="#000" opacity="0.12" filter="url(#b4)"/>
<g stroke="#111" stroke-width="1" opacity="0.38" fill="none" filter="url(#rough2)">
<path d="M349,333 Q375,312 410,306"/><path d="M349,333 Q380,318 420,316"/><path d="M349,333 Q385,326 423,327"/>
<path d="M349,333 Q388,336 424,340"/><path d="M349,333 Q385,346 420,352"/><path d="M349,333 Q378,354 410,362"/>
<path d="M349,333 Q372,318 392,303"/><path d="M349,333 Q378,309 402,302"/><path d="M349,333 Q383,322 418,321"/>
<path d="M349,333 Q386,331 424,333"/><path d="M349,333 Q387,341 422,346"/><path d="M349,333 Q382,351 416,358"/><path d="M349,333 Q372,356 398,366"/>
</g>
<rect x="432" y="294" width="32" height="90" fill="#fff" opacity="0.12" filter="url(#b3)"/>
<path d="M460.5,320.5 L463,319 L463,326 L464,326" fill="none" stroke="#fff" stroke-width="2" opacity="0.85"/>

</g>
<text x="335.4" y="306.0" font-weight="bold" font-size="13.5" class="w" textLength="10.2" lengthAdjust="spacingAndGlyphs">3</text>
<text x="332.8" y="380.6" font-weight="bold" font-size="14" letter-spacing="1.1" class="w" textLength="55.2" lengthAdjust="spacingAndGlyphs">N=10k</text>
<g clip-path="url(#clip_c1)">
<rect x="75" y="526.5" width="131" height="88.2" fill="#c0c0c0"/>
<g><rect x="75.0" y="586.2" width="130.7" height="1.5" fill="#fff" opacity="0.14"/><rect x="75.0" y="552.0" width="64.9" height="0.9" fill="#000" opacity="0.10"/><rect x="75.0" y="550.1" width="93.4" height="0.7" fill="#000" opacity="0.20"/><rect x="75.0" y="604.0" width="104.8" height="0.9" fill="#fff" opacity="0.15"/><rect x="129.5" y="597.3" width="71.7" height="1.2" fill="#fff" opacity="0.08"/><rect x="133.1" y="584.6" width="126.5" height="1.0" fill="#000" opacity="0.21"/><rect x="93.5" y="547.0" width="46.4" height="1.5" fill="#000" opacity="0.18"/><rect x="75.0" y="581.7" width="77.4" height="0.7" fill="#000" opacity="0.17"/><rect x="91.4" y="568.8" width="120.8" height="0.7" fill="#000" opacity="0.14"/><rect x="75.0" y="602.9" width="77.1" height="0.7" fill="#fff" opacity="0.07"/><rect x="75.0" y="586.1" width="76.9" height="2.0" fill="#000" opacity="0.21"/><rect x="75.0" y="552.4" width="108.0" height="0.9" fill="#000" opacity="0.13"/><rect x="75.0" y="533.3" width="82.4" height="1.0" fill="#000" opacity="0.08"/><rect x="75.0" y="584.4" width="41.1" height="0.7" fill="#fff" opacity="0.13"/><rect x="75.0" y="541.6" width="78.9" height="1.0" fill="#000" opacity="0.19"/><rect x="55.9" y="614.5" width="70.5" height="0.7" fill="#000" opacity="0.16"/><rect x="149.5" y="584.1" width="53.4" height="2.0" fill="#fff" opacity="0.15"/><rect x="75.8" y="571.4" width="52.1" height="0.7" fill="#fff" opacity="0.18"/><rect x="134.2" y="572.7" width="88.0" height="1.5" fill="#fff" opacity="0.22"/><rect x="83.1" y="589.7" width="82.3" height="2.0" fill="#000" opacity="0.16"/><rect x="75.0" y="564.4" width="36.6" height="1.2" fill="#fff" opacity="0.20"/><rect x="75.0" y="601.7" width="103.2" height="0.7" fill="#000" opacity="0.15"/><rect x="75.0" y="587.9" width="117.2" height="2.0" fill="#000" opacity="0.11"/><rect x="99.3" y="555.8" width="93.4" height="2.0" fill="#fff" opacity="0.16"/><rect x="75.0" y="603.4" width="104.6" height="0.7" fill="#000" opacity="0.13"/><rect x="75.0" y="530.5" width="35.9" height="1.0" fill="#000" opacity="0.07"/><rect x="64.0" y="541.5" width="36.3" height="1.2" fill="#000" opacity="0.08"/><rect x="75.0" y="565.0" width="104.5" height="2.0" fill="#fff" opacity="0.16"/><rect x="75.0" y="600.2" width="90.7" height="1.0" fill="#fff" opacity="0.08"/><rect x="75.0" y="565.7" width="54.8" height="0.7" fill="#000" opacity="0.11"/><rect x="75.0" y="591.7" width="123.7" height="0.7" fill="#fff" opacity="0.10"/><rect x="98.2" y="546.0" width="128.1" height="1.2" fill="#000" opacity="0.07"/><rect x="75.0" y="580.7" width="67.2" height="1.2" fill="#fff" opacity="0.12"/><rect x="120.2" y="611.5" width="87.5" height="0.7" fill="#000" opacity="0.13"/><rect x="77.7" y="535.6" width="77.7" height="1.2" fill="#000" opacity="0.16"/><rect x="75.0" y="589.6" width="90.8" height="1.2" fill="#fff" opacity="0.10"/><rect x="81.8" y="577.5" width="80.5" height="0.7" fill="#fff" opacity="0.19"/><rect x="75.0" y="591.9" width="34.9" height="1.2" fill="#000" opacity="0.21"/><rect x="103.3" y="534.9" width="91.5" height="1.2" fill="#fff" opacity="0.10"/><rect x="85.0" y="555.8" width="44.7" height="1.0" fill="#fff" opacity="0.18"/><rect x="64.2" y="530.8" width="70.2" height="0.7" fill="#000" opacity="0.13"/><rect x="75.0" y="569.9" width="127.7" height="1.0" fill="#000" opacity="0.10"/><rect x="75.0" y="531.4" width="67.3" height="1.0" fill="#fff" opacity="0.08"/><rect x="111.7" y="589.7" width="36.1" height="1.2" fill="#fff" opacity="0.15"/><rect x="75.0" y="541.6" width="81.0" height="1.5" fill="#000" opacity="0.11"/><rect x="72.4" y="532.8" width="49.1" height="2.0" fill="#000" opacity="0.10"/><rect x="79.8" y="560.3" width="48.9" height="2.0" fill="#000" opacity="0.07"/><rect x="75.0" y="569.5" width="91.4" height="1.5" fill="#000" opacity="0.09"/><rect x="75.0" y="565.1" width="97.3" height="1.5" fill="#fff" opacity="0.11"/><rect x="138.0" y="610.3" width="74.6" height="0.7" fill="#fff" opacity="0.17"/></g>
<rect x="75" y="526.5" width="131" height="88.2" fill="#fff" filter="url(#gr_c1)" opacity="0.13"/>

<rect x="75" y="526" width="131" height="90" fill="#000" opacity="0.15"/>
<ellipse cx="140" cy="580" rx="57" ry="52" fill="#fff" opacity="0.22" filter="url(#b1)"/>
<ellipse cx="140" cy="580" rx="57" ry="52" fill="none" stroke="#3a3a3a" stroke-width="2.2" opacity="0.3" filter="url(#rough4)"/>
<ellipse cx="131" cy="580" rx="36" ry="26" fill="#000" opacity="0.3" filter="url(#blob4)"/>


</g>
<text x="80.2" y="538.3" font-weight="bold" font-size="13.5" class="w" textLength="8.2" lengthAdjust="spacingAndGlyphs" font-family="Liberation Mono">1</text>
<text x="77.0" y="610.6" font-weight="bold" font-size="14" letter-spacing="1.1" class="w" textLength="53.1" lengthAdjust="spacingAndGlyphs">N=800</text>
<g clip-path="url(#clip_c2)">
<rect x="210" y="526.5" width="130" height="88.2" fill="#c0c0c0"/>
<g><rect x="210.0" y="608.1" width="69.5" height="1.0" fill="#fff" opacity="0.06"/><rect x="210.0" y="558.1" width="93.0" height="2.0" fill="#fff" opacity="0.10"/><rect x="210.0" y="606.0" width="34.4" height="0.7" fill="#fff" opacity="0.22"/><rect x="210.0" y="581.9" width="35.9" height="1.2" fill="#000" opacity="0.18"/><rect x="245.4" y="559.1" width="116.4" height="0.9" fill="#000" opacity="0.09"/><rect x="207.4" y="611.9" width="79.6" height="1.0" fill="#000" opacity="0.15"/><rect x="210.0" y="596.3" width="64.0" height="2.0" fill="#fff" opacity="0.09"/><rect x="210.0" y="598.5" width="36.3" height="0.9" fill="#000" opacity="0.08"/><rect x="210.0" y="550.8" width="68.5" height="1.5" fill="#000" opacity="0.19"/><rect x="210.0" y="551.9" width="42.9" height="1.0" fill="#000" opacity="0.15"/><rect x="280.0" y="595.6" width="90.3" height="2.0" fill="#000" opacity="0.10"/><rect x="210.0" y="609.9" width="73.1" height="0.9" fill="#000" opacity="0.22"/><rect x="283.0" y="528.6" width="85.0" height="0.9" fill="#fff" opacity="0.22"/><rect x="226.9" y="613.7" width="51.3" height="2.0" fill="#fff" opacity="0.12"/><rect x="283.1" y="533.2" width="53.6" height="1.2" fill="#000" opacity="0.09"/><rect x="213.4" y="535.6" width="42.3" height="1.5" fill="#fff" opacity="0.17"/><rect x="230.6" y="541.0" width="48.6" height="0.7" fill="#000" opacity="0.18"/><rect x="252.7" y="580.9" width="55.7" height="1.2" fill="#fff" opacity="0.17"/><rect x="243.9" y="552.5" width="113.1" height="1.2" fill="#000" opacity="0.18"/><rect x="271.9" y="536.1" width="56.7" height="2.0" fill="#fff" opacity="0.11"/><rect x="213.0" y="610.4" width="87.2" height="0.7" fill="#000" opacity="0.15"/><rect x="210.0" y="568.0" width="109.1" height="1.2" fill="#000" opacity="0.06"/><rect x="210.0" y="539.0" width="96.3" height="1.2" fill="#fff" opacity="0.19"/><rect x="210.0" y="592.3" width="99.7" height="0.7" fill="#000" opacity="0.17"/><rect x="210.0" y="574.1" width="120.1" height="1.5" fill="#fff" opacity="0.14"/><rect x="210.0" y="534.1" width="77.0" height="0.7" fill="#000" opacity="0.12"/><rect x="216.8" y="562.8" width="123.2" height="2.0" fill="#000" opacity="0.13"/><rect x="264.1" y="540.7" width="118.6" height="0.7" fill="#000" opacity="0.20"/><rect x="286.8" y="574.0" width="46.8" height="2.0" fill="#fff" opacity="0.12"/><rect x="210.0" y="559.2" width="107.5" height="1.5" fill="#000" opacity="0.22"/><rect x="210.0" y="527.2" width="106.8" height="0.7" fill="#000" opacity="0.19"/><rect x="210.0" y="576.2" width="52.0" height="1.2" fill="#fff" opacity="0.13"/><rect x="249.9" y="576.4" width="67.7" height="1.5" fill="#fff" opacity="0.09"/><rect x="279.4" y="613.5" width="50.3" height="1.5" fill="#000" opacity="0.09"/><rect x="210.0" y="528.2" width="119.9" height="1.5" fill="#fff" opacity="0.21"/><rect x="222.0" y="552.5" width="45.6" height="0.7" fill="#fff" opacity="0.16"/><rect x="264.2" y="534.7" width="54.2" height="0.9" fill="#fff" opacity="0.21"/><rect x="210.0" y="578.3" width="87.2" height="1.2" fill="#000" opacity="0.15"/><rect x="220.4" y="591.9" width="122.4" height="1.2" fill="#fff" opacity="0.12"/><rect x="210.6" y="569.9" width="72.2" height="1.0" fill="#fff" opacity="0.18"/><rect x="210.0" y="531.7" width="123.3" height="1.0" fill="#000" opacity="0.14"/><rect x="210.0" y="558.8" width="49.4" height="1.0" fill="#fff" opacity="0.17"/><rect x="251.1" y="599.0" width="74.2" height="1.5" fill="#000" opacity="0.21"/><rect x="210.0" y="580.2" width="38.6" height="1.2" fill="#fff" opacity="0.17"/><rect x="231.3" y="600.6" width="66.6" height="1.2" fill="#000" opacity="0.10"/><rect x="210.0" y="609.7" width="128.4" height="2.0" fill="#000" opacity="0.18"/><rect x="210.0" y="592.8" width="39.1" height="1.5" fill="#000" opacity="0.15"/><rect x="210.0" y="568.2" width="83.2" height="0.9" fill="#000" opacity="0.08"/><rect x="220.6" y="544.9" width="101.1" height="2.0" fill="#fff" opacity="0.20"/><rect x="192.2" y="564.5" width="109.6" height="1.5" fill="#000" opacity="0.11"/></g>
<rect x="210" y="526.5" width="130" height="88.2" fill="#fff" filter="url(#gr_c2)" opacity="0.13"/>

<rect x="210" y="526" width="131" height="90" fill="#000" opacity="0.16"/>
<ellipse cx="273" cy="578" rx="59" ry="52" fill="#fff" opacity="0.22" filter="url(#b1)"/>
<ellipse cx="273" cy="578" rx="59" ry="52" fill="none" stroke="#333" stroke-width="3" opacity="0.32" filter="url(#rough5)"/>
<ellipse cx="266" cy="580" rx="40" ry="29" fill="#000" opacity="0.3" filter="url(#blob5)"/>

<g stroke="#111" stroke-width="1" opacity="0.24" fill="none" filter="url(#rough3)">
<path d="M238,558 L270,585"/><path d="M244,554 L282,582"/><path d="M234,568 L262,592"/><path d="M252,553 L292,580"/>
<path d="M240,563 L276,590"/><path d="M258,556 L300,584"/><path d="M232,576 L256,598"/><path d="M248,570 L284,596"/>
</g>

</g>
<text x="212.6" y="538.3" font-weight="bold" font-size="13.5" class="w" textLength="9.8" lengthAdjust="spacingAndGlyphs">2</text>
<text x="210.9" y="612.1" font-weight="bold" font-size="14" letter-spacing="1.1" class="w" textLength="43.9" lengthAdjust="spacingAndGlyphs">N=3k</text>
<g clip-path="url(#clip_c3)">
<rect x="344" y="526.5" width="130.5" height="88.2" fill="#b6b6b6"/>
<g><rect x="344.0" y="574.8" width="82.6" height="1.0" fill="#000" opacity="0.20"/><rect x="344.0" y="556.8" width="76.2" height="1.2" fill="#fff" opacity="0.22"/><rect x="344.0" y="546.3" width="92.1" height="1.0" fill="#fff" opacity="0.22"/><rect x="344.0" y="563.5" width="75.1" height="2.0" fill="#fff" opacity="0.13"/><rect x="365.5" y="562.5" width="59.9" height="2.0" fill="#000" opacity="0.14"/><rect x="398.4" y="592.7" width="90.1" height="1.2" fill="#000" opacity="0.14"/><rect x="395.9" y="583.4" width="119.7" height="1.2" fill="#000" opacity="0.20"/><rect x="378.3" y="602.1" width="48.6" height="1.0" fill="#fff" opacity="0.17"/><rect x="339.3" y="581.6" width="105.6" height="1.2" fill="#000" opacity="0.11"/><rect x="344.0" y="601.0" width="106.5" height="2.0" fill="#fff" opacity="0.17"/><rect x="344.0" y="561.6" width="122.3" height="1.2" fill="#000" opacity="0.08"/><rect x="344.0" y="611.1" width="33.3" height="0.7" fill="#fff" opacity="0.18"/><rect x="344.0" y="581.9" width="49.7" height="0.7" fill="#fff" opacity="0.14"/><rect x="344.0" y="566.1" width="81.6" height="0.9" fill="#fff" opacity="0.06"/><rect x="361.2" y="537.7" width="54.5" height="0.7" fill="#fff" opacity="0.20"/><rect x="344.0" y="544.4" width="113.3" height="1.5" fill="#fff" opacity="0.21"/><rect x="344.0" y="526.6" width="73.2" height="0.7" fill="#000" opacity="0.10"/><rect x="352.3" y="612.2" width="98.6" height="1.0" fill="#000" opacity="0.11"/><rect x="388.7" y="564.9" width="70.7" height="1.2" fill="#000" opacity="0.14"/><rect x="422.2" y="539.8" width="64.4" height="1.0" fill="#000" opacity="0.14"/><rect x="404.2" y="609.4" width="76.2" height="0.7" fill="#000" opacity="0.19"/><rect x="344.0" y="603.1" width="95.1" height="1.5" fill="#000" opacity="0.09"/><rect x="344.0" y="531.2" width="123.6" height="1.5" fill="#000" opacity="0.17"/><rect x="340.2" y="547.0" width="52.4" height="0.9" fill="#fff" opacity="0.09"/><rect x="344.0" y="596.8" width="112.7" height="1.0" fill="#000" opacity="0.06"/><rect x="344.0" y="546.7" width="71.0" height="0.9" fill="#000" opacity="0.10"/><rect x="420.4" y="552.8" width="39.8" height="2.0" fill="#fff" opacity="0.18"/><rect x="344.0" y="549.1" width="129.9" height="0.7" fill="#fff" opacity="0.09"/><rect x="344.0" y="599.5" width="43.0" height="1.0" fill="#000" opacity="0.18"/><rect x="359.9" y="598.0" width="96.7" height="2.0" fill="#000" opacity="0.19"/><rect x="344.0" y="558.9" width="121.7" height="0.7" fill="#000" opacity="0.17"/><rect x="344.0" y="597.4" width="126.7" height="0.9" fill="#000" opacity="0.06"/><rect x="344.0" y="594.3" width="69.5" height="2.0" fill="#fff" opacity="0.21"/><rect x="344.0" y="571.8" width="102.5" height="0.7" fill="#fff" opacity="0.19"/><rect x="344.0" y="554.5" width="81.9" height="1.0" fill="#000" opacity="0.20"/><rect x="370.5" y="603.7" width="62.4" height="0.9" fill="#fff" opacity="0.10"/><rect x="344.0" y="594.6" width="46.7" height="2.0" fill="#fff" opacity="0.20"/><rect x="363.0" y="550.4" width="89.2" height="2.0" fill="#000" opacity="0.17"/><rect x="353.4" y="532.6" width="49.4" height="0.7" fill="#fff" opacity="0.08"/><rect x="344.0" y="595.7" width="68.5" height="1.0" fill="#fff" opacity="0.15"/><rect x="344.0" y="540.1" width="41.3" height="0.7" fill="#000" opacity="0.12"/><rect x="383.9" y="571.5" width="97.6" height="1.2" fill="#000" opacity="0.18"/><rect x="387.6" y="554.3" width="40.9" height="0.7" fill="#000" opacity="0.18"/><rect x="377.4" y="583.6" width="108.9" height="0.7" fill="#fff" opacity="0.15"/><rect x="391.2" y="596.3" width="55.8" height="1.2" fill="#fff" opacity="0.21"/><rect x="324.3" y="594.3" width="125.6" height="0.9" fill="#000" opacity="0.16"/><rect x="326.3" y="558.4" width="109.0" height="1.5" fill="#fff" opacity="0.10"/><rect x="344.0" y="569.2" width="125.1" height="1.5" fill="#fff" opacity="0.21"/><rect x="351.9" y="597.6" width="63.2" height="0.9" fill="#fff" opacity="0.09"/><rect x="333.0" y="562.4" width="103.8" height="1.5" fill="#000" opacity="0.14"/></g>
<rect x="344" y="526.5" width="130.5" height="88.2" fill="#fff" filter="url(#gr_c3)" opacity="0.13"/>

<rect x="344" y="526" width="131" height="90" fill="#000" opacity="0.06"/>
<ellipse cx="410" cy="574" rx="56" ry="50" fill="#fff" opacity="0.08" filter="url(#b2)"/>
<path d="M370,524 Q352,550 352,578 Q354,600 364,618" fill="none" stroke="#fff" stroke-width="2" opacity="0.3" filter="url(#b07)"/>
<path d="M366,524 Q347,550 347,578 Q349,600 359,618" fill="none" stroke="#000" stroke-width="7" opacity="0.6" filter="url(#band5)"/>
<rect x="338" y="528" width="12" height="90" fill="#222" opacity="0.3" filter="url(#b3)"/>
<path d="M446,522 Q468,545 466,570 Q465,600 452,620" fill="none" stroke="#000" stroke-width="5" opacity="0.45" filter="url(#band2)"/>
<rect x="462" y="527" width="14" height="88" fill="#fff" opacity="0.2" filter="url(#b2)"/>
<ellipse cx="395" cy="578" rx="38" ry="26" fill="#000" opacity="0.18" filter="url(#blob3)"/>
<g stroke="#111" stroke-width="2" opacity="0.4" fill="none" filter="url(#rough1)">
<path d="M355,581 Q375,562 402,553"/><path d="M355,581 Q380,566 412,558"/><path d="M355,581 Q386,570 420,566"/>
<path d="M355,581 Q390,576 426,575"/><path d="M355,581 Q390,583 424,584"/><path d="M355,581 Q388,590 418,594"/>
<path d="M355,581 Q382,595 408,600"/><path d="M356,582 Q376,600 396,606"/>
</g>
<ellipse cx="440" cy="595" rx="20" ry="14" fill="#fff" opacity="0.15" filter="url(#b5)"/>

</g>
<text x="347.8" y="538.0" font-weight="bold" font-size="13.5" class="w" textLength="9.6" lengthAdjust="spacingAndGlyphs">3</text>
<text x="345.3" y="612.1" font-weight="bold" font-size="14" letter-spacing="1.1" class="w" textLength="53.0" lengthAdjust="spacingAndGlyphs">N=10k</text>
</svg></body></html>
